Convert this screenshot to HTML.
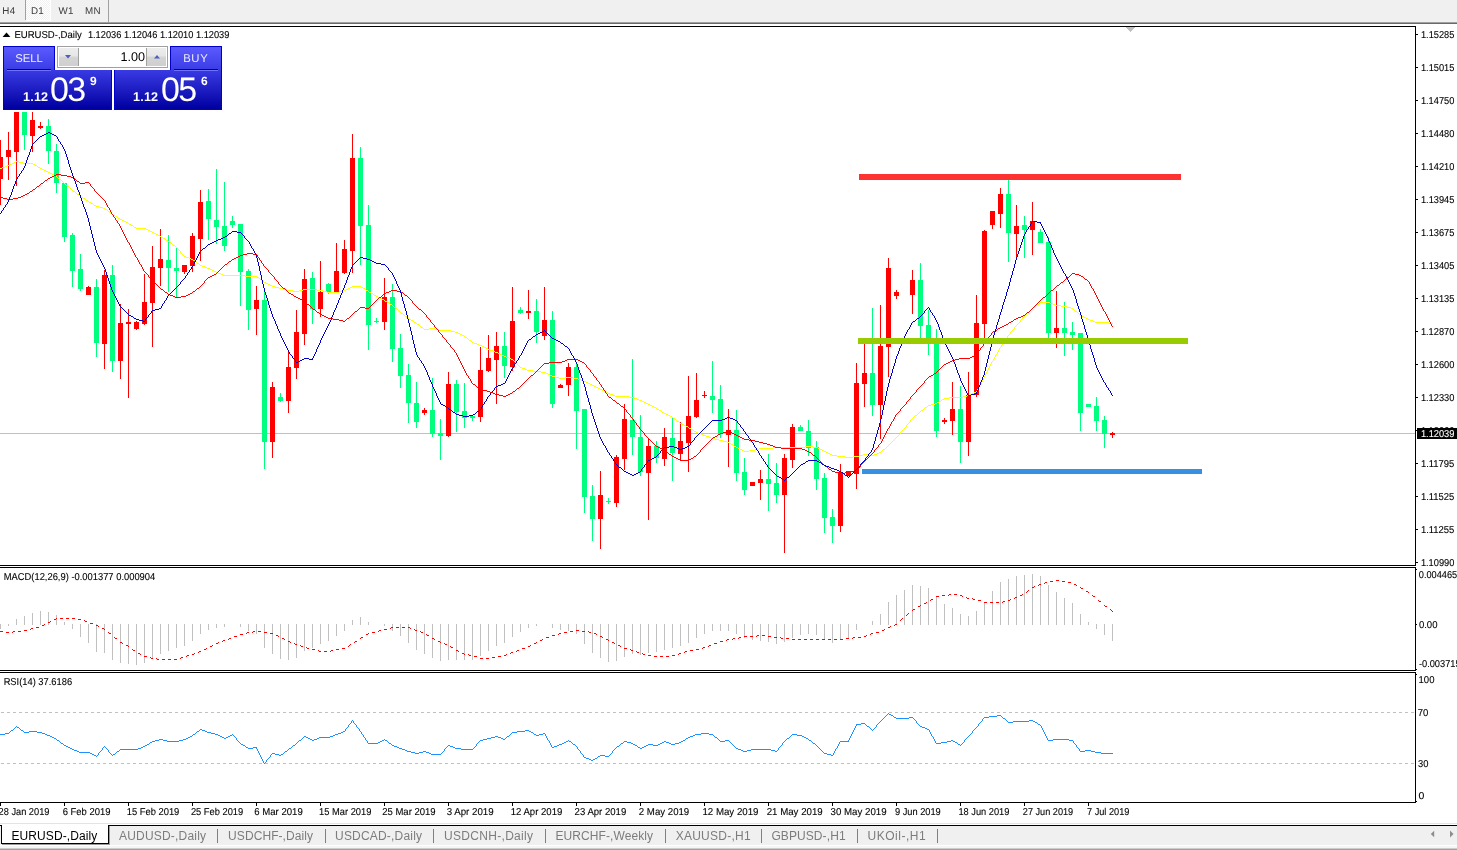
<!DOCTYPE html>
<html lang="en"><head><meta charset="utf-8"><title>EURUSD-,Daily</title>
<style>
html,body{margin:0;padding:0;background:#fff;}
body{width:1457px;height:850px;position:relative;overflow:hidden;font-family:"Liberation Sans",Arial,sans-serif;}
#toolbar{position:absolute;left:0;top:0;width:1457px;height:22px;background:#f0f0f0;border-bottom:1px solid #a0a0a0;}
#toolbar:after{content:"";position:absolute;left:0;top:23px;width:100%;height:1px;background:#696969;}
.tf{position:absolute;top:0;height:21px;line-height:23px;font-size:9.8px;letter-spacing:0.3px;color:#3c3c3c;white-space:nowrap;text-rendering:geometricPrecision;}
.tf.on{left:26px;width:24px;top:0;height:20px;background:repeating-conic-gradient(#ffffff 0% 25%,#f0f0f0 0% 50%) 0 0/2px 2px;box-shadow:1px 0 0 #fff,0 1px 0 #fff,1px 1px 0 #fff;}
.vsep{position:absolute;top:0;width:1px;height:20px;background:#a0a0a0;}
#tabs{position:absolute;left:0;top:823px;width:1457px;height:27px;background:#f0f0f0;}
#tabs .line0{position:absolute;left:0;top:0;width:100%;height:1px;background:#e3e3e3;}
#tabs .line1{position:absolute;left:0;top:1px;width:100%;height:1px;background:#fff;border-bottom:1px solid #000;}
#tabs .bot1{position:absolute;left:0;top:22px;width:100%;height:1px;background:#fff;border-bottom:2px solid #f5f5f5;}
#tabs .bot2{position:absolute;left:0;top:25px;width:100%;height:1px;background:#cdcdcd;border-bottom:1px solid #a0a0a0;}
.tab{position:absolute;top:5px;height:16px;line-height:16px;font-size:12px;color:#7c7c7c;white-space:nowrap;}
.tab.act{color:#000;}
#acttab{position:absolute;left:1px;top:2px;width:106px;height:18px;background:#fff;border:1px solid #000;border-top:none;box-shadow:1px 1px 0 #9a9a9a;}
.sep{position:absolute;top:6px;width:1px;height:14px;background:#808080;}
.arr{position:absolute;top:6px;width:0;height:0;border:4px solid transparent;}
#panel{position:absolute;left:3px;top:46px;width:219px;height:64px;text-rendering:geometricPrecision;}
.pbtn{position:absolute;top:0;height:24px;width:52px;background:linear-gradient(#5a5aff,#3c3ce6);color:#eeeeff;font-size:11.3px;text-align:center;line-height:24px;box-sizing:border-box;border:1px solid #0000cc;border-bottom:none;}
.pbtn:after{content:"";position:absolute;left:3px;right:3px;bottom:0px;height:1px;background:#00008b;box-shadow:0 1px 0 #7070ff;}
.pbox{position:absolute;top:24px;height:40px;width:109px;background:linear-gradient(#3a3ae4,#0000a0);box-sizing:border-box;border:1px solid #0000cc;border-top-color:#2020d0;color:#fff;}
.pbox b{position:absolute;font-weight:bold;}
.pbox span{position:absolute;}
#spin{position:absolute;left:54px;top:0px;width:111px;height:22px;box-sizing:border-box;border:1px solid #a0a0a0;background:#fff;}
#spin .b{position:absolute;top:1px;width:19px;height:18px;background:linear-gradient(#ededed 0%,#e6e6e6 45%,#d4d4d4 50%,#cfcfcf 100%);border:0 solid #a0a0a0;}
#spin .v{position:absolute;right:22px;top:0;height:20px;line-height:21px;font-size:12.6px;letter-spacing:0;color:#000;}
</style></head>
<body>
<div id="toolbar">
<span class="tf" style="left:2.3px">H4</span>
<i class="vsep" style="left:25px"></i>
<span class="tf on"></span>
<span class="tf" style="left:31px">D1</span>
<span class="tf" style="left:58.5px">W1</span>
<span class="tf" style="left:85px">MN</span>
<i class="vsep" style="left:108px;height:22px"></i>
</div>
<svg width="1457" height="850" viewBox="0 0 1457 850" style="position:absolute;left:0;top:0" shape-rendering="crispEdges">
<g fill="#000">
<rect x="0" y="26" width="1416" height="1" fill="#000"/>
<rect x="0" y="565" width="1416" height="1" fill="#000"/>
<rect x="1415" y="26" width="1" height="540" fill="#000"/>
<rect x="0" y="567" width="1416" height="1" fill="#000"/>
<rect x="0" y="670" width="1416" height="1" fill="#000"/>
<rect x="1415" y="567" width="1" height="104" fill="#000"/>
<rect x="0" y="672" width="1416" height="1" fill="#000"/>
<rect x="0" y="802" width="1416" height="1" fill="#000"/>
<rect x="1415" y="672" width="1" height="131" fill="#000"/>
</g>
<rect x="0" y="433" width="1415" height="1" fill="#c0c0c0"/>
<polygon points="1125,27 1135,27 1130,32" fill="#c0c0c0"/>
<line x1="0" y1="712.5" x2="1415" y2="712.5" stroke="#c0c0c0" stroke-width="1" stroke-dasharray="3 3" stroke-dashoffset="5"/>
<line x1="0" y1="763.5" x2="1415" y2="763.5" stroke="#c0c0c0" stroke-width="1" stroke-dasharray="3 3" stroke-dashoffset="5"/>
<g fill="#c0c0c0">
<rect x="0" y="624" width="1" height="5"/>
<rect x="8" y="624" width="1" height="2"/>
<rect x="16" y="619" width="1" height="6"/>
<rect x="24" y="616" width="1" height="9"/>
<rect x="32" y="613" width="1" height="12"/>
<rect x="40" y="611" width="1" height="14"/>
<rect x="48" y="612" width="1" height="13"/>
<rect x="56" y="615" width="1" height="10"/>
<rect x="64" y="622" width="1" height="3"/>
<rect x="72" y="624" width="1" height="5"/>
<rect x="80" y="624" width="1" height="13"/>
<rect x="88" y="624" width="1" height="19"/>
<rect x="96" y="624" width="1" height="28"/>
<rect x="104" y="624" width="1" height="29"/>
<rect x="112" y="624" width="1" height="36"/>
<rect x="120" y="624" width="1" height="39"/>
<rect x="128" y="624" width="1" height="40"/>
<rect x="136" y="624" width="1" height="41"/>
<rect x="144" y="624" width="1" height="39"/>
<rect x="152" y="624" width="1" height="34"/>
<rect x="160" y="624" width="1" height="30"/>
<rect x="168" y="624" width="1" height="27"/>
<rect x="176" y="624" width="1" height="24"/>
<rect x="184" y="624" width="1" height="22"/>
<rect x="192" y="624" width="1" height="17"/>
<rect x="200" y="624" width="1" height="10"/>
<rect x="208" y="624" width="1" height="6"/>
<rect x="216" y="624" width="1" height="4"/>
<rect x="224" y="624" width="1" height="3"/>
<rect x="240" y="624" width="1" height="3"/>
<rect x="248" y="624" width="1" height="7"/>
<rect x="256" y="624" width="1" height="10"/>
<rect x="264" y="624" width="1" height="24"/>
<rect x="272" y="624" width="1" height="30"/>
<rect x="280" y="624" width="1" height="35"/>
<rect x="288" y="624" width="1" height="36"/>
<rect x="296" y="624" width="1" height="34"/>
<rect x="304" y="624" width="1" height="27"/>
<rect x="312" y="624" width="1" height="24"/>
<rect x="320" y="624" width="1" height="20"/>
<rect x="328" y="624" width="1" height="17"/>
<rect x="336" y="624" width="1" height="12"/>
<rect x="344" y="624" width="1" height="7"/>
<rect x="352" y="620" width="1" height="5"/>
<rect x="360" y="617" width="1" height="8"/>
<rect x="368" y="622" width="1" height="3"/>
<rect x="384" y="624" width="1" height="2"/>
<rect x="392" y="624" width="1" height="7"/>
<rect x="400" y="624" width="1" height="12"/>
<rect x="408" y="624" width="1" height="19"/>
<rect x="416" y="624" width="1" height="26"/>
<rect x="424" y="624" width="1" height="30"/>
<rect x="432" y="624" width="1" height="34"/>
<rect x="440" y="624" width="1" height="37"/>
<rect x="448" y="624" width="1" height="36"/>
<rect x="456" y="624" width="1" height="36"/>
<rect x="464" y="624" width="1" height="36"/>
<rect x="472" y="624" width="1" height="36"/>
<rect x="480" y="624" width="1" height="32"/>
<rect x="488" y="624" width="1" height="27"/>
<rect x="496" y="624" width="1" height="22"/>
<rect x="504" y="624" width="1" height="19"/>
<rect x="512" y="624" width="1" height="13"/>
<rect x="520" y="624" width="1" height="8"/>
<rect x="528" y="624" width="1" height="4"/>
<rect x="536" y="624" width="1" height="2"/>
<rect x="552" y="624" width="1" height="4"/>
<rect x="560" y="624" width="1" height="6"/>
<rect x="568" y="624" width="1" height="7"/>
<rect x="576" y="624" width="1" height="10"/>
<rect x="584" y="624" width="1" height="20"/>
<rect x="592" y="624" width="1" height="29"/>
<rect x="600" y="624" width="1" height="34"/>
<rect x="608" y="624" width="1" height="38"/>
<rect x="616" y="624" width="1" height="37"/>
<rect x="624" y="624" width="1" height="33"/>
<rect x="632" y="624" width="1" height="30"/>
<rect x="640" y="624" width="1" height="31"/>
<rect x="648" y="624" width="1" height="29"/>
<rect x="656" y="624" width="1" height="28"/>
<rect x="664" y="624" width="1" height="26"/>
<rect x="672" y="624" width="1" height="24"/>
<rect x="680" y="624" width="1" height="22"/>
<rect x="688" y="624" width="1" height="19"/>
<rect x="696" y="624" width="1" height="14"/>
<rect x="704" y="624" width="1" height="10"/>
<rect x="712" y="624" width="1" height="7"/>
<rect x="720" y="624" width="1" height="7"/>
<rect x="728" y="624" width="1" height="7"/>
<rect x="736" y="624" width="1" height="10"/>
<rect x="744" y="624" width="1" height="14"/>
<rect x="752" y="624" width="1" height="16"/>
<rect x="760" y="624" width="1" height="17"/>
<rect x="768" y="624" width="1" height="18"/>
<rect x="776" y="624" width="1" height="20"/>
<rect x="784" y="624" width="1" height="18"/>
<rect x="792" y="624" width="1" height="14"/>
<rect x="800" y="624" width="1" height="11"/>
<rect x="808" y="624" width="1" height="10"/>
<rect x="816" y="624" width="1" height="11"/>
<rect x="824" y="624" width="1" height="15"/>
<rect x="832" y="624" width="1" height="19"/>
<rect x="840" y="624" width="1" height="16"/>
<rect x="848" y="624" width="1" height="14"/>
<rect x="856" y="624" width="1" height="6"/>
<rect x="872" y="621" width="1" height="4"/>
<rect x="880" y="614" width="1" height="11"/>
<rect x="888" y="602" width="1" height="23"/>
<rect x="896" y="595" width="1" height="30"/>
<rect x="904" y="590" width="1" height="35"/>
<rect x="912" y="585" width="1" height="40"/>
<rect x="920" y="586" width="1" height="39"/>
<rect x="928" y="588" width="1" height="37"/>
<rect x="936" y="597" width="1" height="28"/>
<rect x="944" y="604" width="1" height="21"/>
<rect x="952" y="608" width="1" height="17"/>
<rect x="960" y="614" width="1" height="11"/>
<rect x="968" y="616" width="1" height="9"/>
<rect x="976" y="611" width="1" height="14"/>
<rect x="984" y="602" width="1" height="23"/>
<rect x="992" y="591" width="1" height="34"/>
<rect x="1000" y="582" width="1" height="43"/>
<rect x="1008" y="579" width="1" height="46"/>
<rect x="1016" y="576" width="1" height="49"/>
<rect x="1024" y="575" width="1" height="50"/>
<rect x="1032" y="574" width="1" height="51"/>
<rect x="1040" y="576" width="1" height="49"/>
<rect x="1048" y="585" width="1" height="40"/>
<rect x="1056" y="592" width="1" height="33"/>
<rect x="1064" y="598" width="1" height="27"/>
<rect x="1072" y="603" width="1" height="22"/>
<rect x="1080" y="614" width="1" height="11"/>
<rect x="1088" y="622" width="1" height="3"/>
<rect x="1096" y="624" width="1" height="5"/>
<rect x="1104" y="624" width="1" height="11"/>
<rect x="1112" y="624" width="1" height="17"/>
</g>
<path d="M0 631h3v1h-3zM6 632h3v1h-3zM12 632h1v1h-1zM13 631h2v1h-2zM18 631h3v1h-3zM24 630h3v1h-3zM30 629h1v1h-1zM31 628h2v1h-2zM36 627h3v1h-3zM42 625h2v1h-2zM44 624h1v1h-1zM48 622h2v1h-2zM50 621h1v1h-1zM54 619h2v1h-2zM56 618h1v1h-1zM60 618h3v1h-3zM66 618h3v1h-3zM72 618h3v1h-3zM78 619h3v1h-3zM84 620h1v1h-1zM85 621h2v1h-2zM90 623h3v1h-3zM96 625h2v1h-2zM98 626h1v1h-1zM102 628h2v1h-2zM104 629h1v1h-1zM108 632h1v1h-1zM109 633h2v1h-2zM114 637h1v1h-1zM115 638h2v1h-2zM120 642h2v1h-2zM122 643h1v1h-1zM126 645h2v1h-2zM128 646h1v1h-1zM132 649h1v1h-1zM133 650h2v1h-2zM138 653h2v1h-2zM140 654h1v1h-1zM144 656h3v1h-3zM150 657h1v1h-1zM151 658h2v1h-2zM156 658h1v1h-1zM157 659h2v1h-2zM162 659h3v1h-3zM168 659h3v1h-3zM174 659h3v1h-3zM180 658h1v1h-1zM181 657h2v1h-2zM186 656h1v1h-1zM187 655h2v1h-2zM192 654h2v1h-2zM194 653h1v1h-1zM198 652h1v1h-1zM199 651h2v1h-2zM204 649h2v1h-2zM206 648h1v1h-1zM210 646h2v1h-2zM212 645h1v1h-1zM216 643h2v1h-2zM218 642h1v1h-1zM222 641h1v1h-1zM223 640h2v1h-2zM228 639h1v1h-1zM229 638h2v1h-2zM234 636h3v1h-3zM240 634h3v1h-3zM246 633h1v1h-1zM247 632h2v1h-2zM252 632h1v1h-1zM253 631h2v1h-2zM258 631h3v1h-3zM264 632h3v1h-3zM270 633h3v1h-3zM276 635h2v1h-2zM278 636h1v1h-1zM282 638h2v1h-2zM284 639h1v1h-1zM288 641h2v1h-2zM290 642h1v1h-1zM294 643h1v1h-1zM295 644h2v1h-2zM300 645h1v1h-1zM301 646h2v1h-2zM306 647h1v1h-1zM307 648h2v1h-2zM312 649h3v1h-3zM318 650h1v1h-1zM319 651h2v1h-2zM324 651h3v1h-3zM330 651h1v1h-1zM331 650h2v1h-2zM336 649h3v1h-3zM342 648h3v1h-3zM348 646h1v1h-1zM349 645h1v1h-1zM350 644h1v1h-1zM354 642h1v1h-1zM355 641h2v1h-2zM360 638h1v1h-1zM361 637h2v1h-2zM366 634h2v1h-2zM368 633h1v1h-1zM372 632h3v1h-3zM378 631h1v1h-1zM379 630h2v1h-2zM384 629h3v1h-3zM390 628h1v1h-1zM391 627h2v1h-2zM396 627h3v1h-3zM402 627h3v1h-3zM408 627h2v1h-2zM410 628h1v1h-1zM414 629h1v1h-1zM415 630h2v1h-2zM420 631h1v1h-1zM421 632h2v1h-2zM426 634h1v1h-1zM427 635h2v1h-2zM432 638h2v1h-2zM434 639h1v1h-1zM438 641h2v1h-2zM440 642h1v1h-1zM444 643h1v1h-1zM445 644h2v1h-2zM450 646h1v1h-1zM451 647h2v1h-2zM456 650h2v1h-2zM458 651h1v1h-1zM462 653h2v1h-2zM464 654h1v1h-1zM468 654h1v1h-1zM469 655h2v1h-2zM474 656h3v1h-3zM480 658h3v1h-3zM486 658h3v1h-3zM492 657h3v1h-3zM498 656h3v1h-3zM504 655h2v1h-2zM506 654h1v1h-1zM510 653h1v1h-1zM511 652h2v1h-2zM516 651h1v1h-1zM517 650h2v1h-2zM522 648h3v1h-3zM528 646h2v1h-2zM530 645h1v1h-1zM534 643h2v1h-2zM536 642h1v1h-1zM540 640h2v1h-2zM542 639h1v1h-1zM546 637h3v1h-3zM552 635h3v1h-3zM558 634h1v1h-1zM559 633h2v1h-2zM564 632h3v1h-3zM570 631h3v1h-3zM576 630h3v1h-3zM582 631h3v1h-3zM588 631h1v1h-1zM589 632h2v1h-2zM594 633h2v1h-2zM596 634h1v1h-1zM600 636h2v1h-2zM602 637h1v1h-1zM606 639h2v1h-2zM608 640h1v1h-1zM612 642h2v1h-2zM614 643h1v1h-1zM618 645h2v1h-2zM620 646h1v1h-1zM624 648h3v1h-3zM630 649h1v1h-1zM631 650h2v1h-2zM636 651h1v1h-1zM637 652h2v1h-2zM642 653h1v1h-1zM643 654h2v1h-2zM648 655h3v1h-3zM654 656h3v1h-3zM660 656h3v1h-3zM666 656h3v1h-3zM672 655h3v1h-3zM678 654h1v1h-1zM679 653h2v1h-2zM684 652h1v1h-1zM685 651h2v1h-2zM690 650h3v1h-3zM696 649h3v1h-3zM702 648h1v1h-1zM703 647h2v1h-2zM708 646h1v1h-1zM709 645h2v1h-2zM714 643h3v1h-3zM720 641h3v1h-3zM726 640h1v1h-1zM727 639h2v1h-2zM732 639h1v1h-1zM733 638h2v1h-2zM738 638h1v1h-1zM739 637h2v1h-2zM744 636h3v1h-3zM750 636h3v1h-3zM756 636h1v1h-1zM757 635h2v1h-2zM762 635h3v1h-3zM768 636h3v1h-3zM774 637h3v1h-3zM780 637h1v1h-1zM781 638h2v1h-2zM786 638h3v1h-3zM792 639h3v1h-3zM798 639h3v1h-3zM804 639h3v1h-3zM810 639h3v1h-3zM816 639h3v1h-3zM822 639h3v1h-3zM828 639h3v1h-3zM834 639h3v1h-3zM840 639h3v1h-3zM846 638h3v1h-3zM852 638h1v1h-1zM853 637h2v1h-2zM858 637h3v1h-3zM864 636h2v1h-2zM866 635h1v1h-1zM870 634h1v1h-1zM871 633h2v1h-2zM876 632h3v1h-3zM882 630h2v1h-2zM884 629h1v1h-1zM888 627h2v1h-2zM890 626h1v1h-1zM894 625h1v1h-1zM895 624h2v1h-2zM900 620h1v1h-1zM901 619h1v1h-1zM902 618h1v1h-1zM906 615h1v1h-1zM907 614h1v1h-1zM908 613h1v1h-1zM912 610h1v1h-1zM913 609h2v1h-2zM918 606h2v1h-2zM920 605h1v1h-1zM924 603h2v1h-2zM926 602h1v1h-1zM930 600h1v1h-1zM931 599h2v1h-2zM936 596h3v1h-3zM942 595h3v1h-3zM948 595h1v1h-1zM949 594h2v1h-2zM954 594h3v1h-3zM960 595h2v1h-2zM962 596h1v1h-1zM966 597h1v1h-1zM967 598h2v1h-2zM972 598h1v1h-1zM973 599h2v1h-2zM978 600h3v1h-3zM984 602h3v1h-3zM990 602h3v1h-3zM996 602h3v1h-3zM1002 602h1v1h-1zM1003 601h2v1h-2zM1008 600h2v1h-2zM1010 599h1v1h-1zM1014 598h1v1h-1zM1015 597h2v1h-2zM1020 595h2v1h-2zM1022 594h1v1h-1zM1026 592h1v1h-1zM1027 591h1v1h-1zM1028 590h1v1h-1zM1032 587h2v1h-2zM1034 586h1v1h-1zM1038 585h1v1h-1zM1039 584h2v1h-2zM1044 583h1v1h-1zM1045 582h2v1h-2zM1050 581h3v1h-3zM1056 580h3v1h-3zM1062 581h3v1h-3zM1068 582h3v1h-3zM1074 584h2v1h-2zM1076 585h1v1h-1zM1080 587h1v1h-1zM1081 588h2v1h-2zM1086 591h2v1h-2zM1088 592h1v1h-1zM1092 595h1v1h-1zM1093 596h2v1h-2zM1098 600h1v1h-1zM1099 601h2v1h-2zM1104 605h1v1h-1zM1105 606h2v1h-2zM1110 609h1v1h-1zM1111 610h1v1h-1zM1112 611h1v1h-1z" fill="#ff0000"/>
<path d="M0 734h5v1h-5zM5 733h4v1h-4zM9 732h1v1h-1zM10 731h1v1h-1zM11 730h2v1h-2zM13 729h1v1h-1zM14 728h1v1h-1zM15 727h1v1h-1zM16 726h1v1h-1zM17 727h2v1h-2zM19 728h1v1h-1zM20 729h1v1h-1zM21 730h2v1h-2zM23 731h1v1h-1zM24 732h5v1h-5zM29 731h8v1h-8zM37 732h5v1h-5zM42 733h3v1h-3zM45 734h2v1h-2zM47 735h3v1h-3zM50 736h2v1h-2zM52 737h2v1h-2zM54 738h2v1h-2zM56 739h1v1h-1zM57 740h2v1h-2zM59 741h1v1h-1zM60 742h1v1h-1zM61 743h2v1h-2zM63 744h1v1h-1zM64 745h2v1h-2zM66 746h2v1h-2zM68 747h2v1h-2zM70 748h2v1h-2zM72 749h2v1h-2zM74 750h3v1h-3zM77 751h2v1h-2zM79 752h11v1h-11zM90 753h2v1h-2zM92 754h2v1h-2zM94 755h2v1h-2zM96 756h1v1h-1zM97 755h1v1h-1zM98 753h1v2h-1zM99 752h1v1h-1zM100 751h1v1h-1zM101 750h1v1h-1zM102 748h1v2h-1zM103 747h1v1h-1zM104 746h1v1h-1zM105 747h1v1h-1zM106 748h1v1h-1zM107 749h1v1h-1zM108 750h1v2h-1zM109 752h1v1h-1zM110 753h1v1h-1zM111 754h1v1h-1zM112 755h1v1h-1zM113 754h2v1h-2zM115 753h1v1h-1zM116 752h1v1h-1zM117 751h2v1h-2zM119 750h1v1h-1zM120 749h18v1h-18zM138 748h3v1h-3zM141 747h2v1h-2zM143 746h2v1h-2zM145 745h2v1h-2zM147 744h2v1h-2zM149 743h1v1h-1zM150 742h2v1h-2zM152 741h3v1h-3zM155 740h4v1h-4zM159 739h4v1h-4zM163 740h4v1h-4zM167 741h12v1h-12zM179 740h4v1h-4zM183 739h3v1h-3zM186 738h2v1h-2zM188 737h2v1h-2zM190 736h2v1h-2zM192 735h1v1h-1zM193 734h2v1h-2zM195 733h1v1h-1zM196 732h1v1h-1zM197 731h2v1h-2zM199 730h1v1h-1zM200 729h2v1h-2zM202 730h3v1h-3zM205 731h2v1h-2zM207 732h4v1h-4zM211 733h4v1h-4zM215 734h3v1h-3zM218 735h2v1h-2zM220 736h2v1h-2zM222 737h2v1h-2zM224 738h2v1h-2zM226 737h2v1h-2zM228 736h2v1h-2zM230 735h2v1h-2zM232 734h1v1h-1zM233 735h1v1h-1zM234 736h1v1h-1zM235 737h1v1h-1zM236 738h1v2h-1zM237 740h1v1h-1zM238 741h1v1h-1zM239 742h1v1h-1zM240 743h1v1h-1zM241 744h2v1h-2zM243 745h2v1h-2zM245 746h1v1h-1zM246 747h2v1h-2zM248 748h5v1h-5zM253 747h4v1h-4zM256 748h1v1h-1zM257 749h1v2h-1zM258 751h1v2h-1zM259 753h1v2h-1zM260 755h1v2h-1zM261 757h1v2h-1zM262 759h1v2h-1zM263 761h1v2h-1zM264 763h1v1h-1zM265 762h1v1h-1zM266 760h1v2h-1zM267 759h1v1h-1zM268 758h1v1h-1zM269 757h1v1h-1zM270 755h1v2h-1zM271 754h1v1h-1zM272 753h3v1h-3zM275 754h4v1h-4zM279 755h2v1h-2zM281 754h2v1h-2zM283 753h1v1h-1zM284 752h1v1h-1zM285 751h2v1h-2zM287 750h1v1h-1zM288 749h1v1h-1zM289 748h2v1h-2zM291 747h1v1h-1zM292 746h1v1h-1zM293 745h2v1h-2zM295 744h1v1h-1zM296 743h1v1h-1zM297 742h1v1h-1zM298 741h1v1h-1zM299 740h2v1h-2zM301 739h1v1h-1zM302 738h1v1h-1zM303 737h1v1h-1zM304 736h2v1h-2zM306 737h2v1h-2zM308 738h2v1h-2zM310 739h2v1h-2zM312 740h2v1h-2zM314 739h3v1h-3zM317 738h2v1h-2zM319 737h11v1h-11zM330 736h3v1h-3zM333 735h2v1h-2zM335 734h3v1h-3zM338 733h3v1h-3zM341 732h2v1h-2zM343 731h2v1h-2zM345 729h1v2h-1zM346 728h1v1h-1zM347 727h1v1h-1zM348 725h1v2h-1zM349 724h1v1h-1zM350 723h1v1h-1zM351 721h1v2h-1zM352 720h1v1h-1zM353 721h1v2h-1zM354 723h1v1h-1zM355 724h1v1h-1zM356 725h1v2h-1zM357 727h1v1h-1zM358 728h1v1h-1zM359 729h1v2h-1zM360 731h1v1h-1zM361 732h1v2h-1zM362 734h1v1h-1zM363 735h1v2h-1zM364 737h1v1h-1zM365 738h1v2h-1zM366 740h1v1h-1zM367 741h1v2h-1zM368 743h10v1h-10zM378 742h2v1h-2zM380 741h2v1h-2zM382 740h2v1h-2zM384 739h1v1h-1zM385 740h2v1h-2zM387 741h1v1h-1zM388 742h1v1h-1zM389 743h2v1h-2zM391 744h1v1h-1zM392 745h2v1h-2zM394 746h3v1h-3zM397 747h2v1h-2zM399 748h3v1h-3zM402 749h3v1h-3zM405 750h2v1h-2zM407 751h4v1h-4zM411 752h4v1h-4zM415 753h4v1h-4zM419 752h4v1h-4zM423 751h3v1h-3zM426 752h3v1h-3zM429 753h2v1h-2zM431 754h10v1h-10zM441 753h1v1h-1zM442 752h1v1h-1zM443 751h1v1h-1zM444 749h1v2h-1zM445 748h1v1h-1zM446 747h1v1h-1zM447 746h1v1h-1zM448 745h2v1h-2zM450 746h3v1h-3zM453 747h2v1h-2zM455 748h6v1h-6zM461 749h12v1h-12zM473 748h1v1h-1zM474 747h1v1h-1zM475 746h1v1h-1zM476 744h1v2h-1zM477 743h1v1h-1zM478 742h1v1h-1zM479 741h1v1h-1zM480 740h3v1h-3zM483 739h4v1h-4zM487 738h4v1h-4zM491 737h4v1h-4zM495 736h3v1h-3zM498 737h3v1h-3zM501 738h2v1h-2zM503 739h2v1h-2zM505 738h1v1h-1zM506 737h1v1h-1zM507 736h2v1h-2zM509 735h1v1h-1zM510 734h1v1h-1zM511 733h1v1h-1zM512 732h5v1h-5zM517 731h8v1h-8zM525 730h4v1h-4zM529 731h2v1h-2zM531 732h2v1h-2zM533 733h1v1h-1zM534 734h2v1h-2zM536 735h3v1h-3zM539 734h4v1h-4zM543 733h2v1h-2zM545 734h1v2h-1zM546 736h1v2h-1zM547 738h1v2h-1zM548 740h1v1h-1zM549 741h1v2h-1zM550 743h1v2h-1zM551 745h1v2h-1zM552 747h2v1h-2zM554 746h3v1h-3zM557 745h2v1h-2zM559 744h3v1h-3zM562 743h2v1h-2zM564 742h2v1h-2zM566 741h2v1h-2zM568 740h1v1h-1zM569 741h2v1h-2zM571 742h1v1h-1zM572 743h1v1h-1zM573 744h2v1h-2zM575 745h1v1h-1zM576 746h1v1h-1zM577 747h1v2h-1zM578 749h1v1h-1zM579 750h1v1h-1zM580 751h1v2h-1zM581 753h1v1h-1zM582 754h1v1h-1zM583 755h1v2h-1zM584 757h2v1h-2zM586 758h3v1h-3zM589 759h2v1h-2zM591 760h2v1h-2zM593 759h2v1h-2zM595 758h2v1h-2zM597 757h1v1h-1zM598 756h2v1h-2zM600 755h5v1h-5zM605 756h4v1h-4zM609 755h1v1h-1zM610 754h1v1h-1zM611 753h1v1h-1zM612 751h1v2h-1zM613 750h1v1h-1zM614 749h1v1h-1zM615 748h1v1h-1zM616 747h1v1h-1zM617 746h2v1h-2zM619 745h1v1h-1zM620 744h1v1h-1zM621 743h2v1h-2zM623 742h1v1h-1zM624 741h3v1h-3zM627 742h4v1h-4zM631 743h2v1h-2zM633 744h2v1h-2zM635 745h2v1h-2zM637 746h1v1h-1zM638 747h2v1h-2zM640 748h2v1h-2zM642 747h2v1h-2zM644 746h2v1h-2zM646 745h2v1h-2zM648 744h5v1h-5zM653 745h5v1h-5zM658 744h2v1h-2zM660 743h2v1h-2zM662 742h2v1h-2zM664 741h2v1h-2zM666 742h3v1h-3zM669 743h2v1h-2zM671 744h4v1h-4zM675 743h4v1h-4zM679 742h2v1h-2zM681 741h2v1h-2zM683 740h2v1h-2zM685 739h1v1h-1zM686 738h2v1h-2zM688 737h2v1h-2zM690 736h3v1h-3zM693 735h2v1h-2zM695 734h6v1h-6zM701 733h8v1h-8zM709 734h4v1h-4zM713 735h1v1h-1zM714 736h1v1h-1zM715 737h2v1h-2zM717 738h1v1h-1zM718 739h1v1h-1zM719 740h1v1h-1zM720 741h5v1h-5zM725 740h4v1h-4zM729 741h1v1h-1zM730 742h1v1h-1zM731 743h1v1h-1zM732 744h1v1h-1zM733 745h1v1h-1zM734 746h1v1h-1zM735 747h1v1h-1zM736 748h2v1h-2zM738 749h3v1h-3zM741 750h2v1h-2zM743 751h4v1h-4zM747 750h4v1h-4zM751 749h20v1h-20zM771 750h4v1h-4zM775 751h2v1h-2zM777 750h1v1h-1zM778 748h1v2h-1zM779 747h1v1h-1zM780 746h1v1h-1zM781 745h1v1h-1zM782 743h1v2h-1zM783 742h1v1h-1zM784 741h1v1h-1zM785 740h1v1h-1zM786 739h1v1h-1zM787 738h2v1h-2zM789 737h1v1h-1zM790 736h1v1h-1zM791 735h1v1h-1zM792 734h5v1h-5zM797 735h5v1h-5zM802 736h2v1h-2zM804 737h2v1h-2zM806 738h2v1h-2zM808 739h1v1h-1zM809 740h2v1h-2zM811 741h1v1h-1zM812 742h1v1h-1zM813 743h2v1h-2zM815 744h1v1h-1zM816 745h1v1h-1zM817 746h1v1h-1zM818 747h1v1h-1zM819 748h1v1h-1zM820 749h1v1h-1zM821 750h1v1h-1zM822 751h1v1h-1zM823 752h1v1h-1zM824 753h3v1h-3zM827 754h4v1h-4zM831 755h2v1h-2zM833 753h1v2h-1zM834 751h1v2h-1zM835 749h1v2h-1zM836 748h1v1h-1zM837 746h1v2h-1zM838 744h1v2h-1zM839 742h1v2h-1zM840 741h9v1h-9zM848 740h1v1h-1zM849 738h1v2h-1zM850 736h1v2h-1zM851 734h1v2h-1zM852 732h1v2h-1zM853 730h1v2h-1zM854 728h1v2h-1zM855 726h1v2h-1zM856 724h5v1h-5zM856 725h1v1h-1zM861 723h4v1h-4zM865 724h1v1h-1zM866 725h1v1h-1zM867 726h2v1h-2zM869 727h1v1h-1zM870 728h1v1h-1zM871 729h1v1h-1zM872 730h1v1h-1zM873 729h1v1h-1zM874 728h1v1h-1zM875 727h1v1h-1zM876 725h1v2h-1zM877 724h1v1h-1zM878 723h1v1h-1zM879 722h1v1h-1zM880 721h1v1h-1zM881 720h1v1h-1zM882 719h1v1h-1zM883 718h1v1h-1zM884 717h1v1h-1zM885 716h1v1h-1zM886 715h1v1h-1zM887 714h1v1h-1zM888 713h1v1h-1zM889 714h2v1h-2zM891 715h2v1h-2zM893 716h1v1h-1zM894 717h2v1h-2zM896 718h13v1h-13zM909 717h4v1h-4zM913 718h1v1h-1zM914 719h1v1h-1zM915 720h1v1h-1zM916 721h1v2h-1zM917 723h1v1h-1zM918 724h1v1h-1zM919 725h1v1h-1zM920 726h2v1h-2zM922 727h3v1h-3zM925 728h2v1h-2zM927 729h2v1h-2zM929 730h1v2h-1zM930 732h1v2h-1zM931 734h1v2h-1zM932 736h1v1h-1zM933 737h1v2h-1zM934 739h1v2h-1zM935 741h1v2h-1zM936 743h5v1h-5zM941 742h6v1h-6zM947 741h4v1h-4zM951 740h2v1h-2zM953 741h2v1h-2zM955 742h2v1h-2zM957 743h1v1h-1zM958 744h2v1h-2zM960 745h1v1h-1zM961 744h1v1h-1zM962 743h1v1h-1zM963 742h1v1h-1zM964 740h1v2h-1zM965 739h1v1h-1zM966 738h1v1h-1zM967 737h1v1h-1zM968 736h1v1h-1zM969 735h1v1h-1zM970 734h1v1h-1zM971 733h1v1h-1zM972 731h1v2h-1zM973 730h1v1h-1zM974 729h1v1h-1zM975 728h1v1h-1zM976 727h1v1h-1zM977 726h1v1h-1zM978 724h1v2h-1zM979 723h1v1h-1zM980 722h1v1h-1zM981 721h1v1h-1zM982 719h1v2h-1zM983 718h1v1h-1zM984 717h5v1h-5zM989 716h8v1h-8zM997 715h4v1h-4zM1001 716h1v1h-1zM1002 717h1v1h-1zM1003 718h2v1h-2zM1005 719h1v1h-1zM1006 720h1v1h-1zM1007 721h1v1h-1zM1008 722h5v1h-5zM1013 721h16v1h-16zM1029 720h4v1h-4zM1033 721h2v1h-2zM1035 722h2v1h-2zM1037 723h1v1h-1zM1038 724h2v1h-2zM1040 725h1v1h-1zM1041 726h1v2h-1zM1042 728h1v2h-1zM1043 730h1v2h-1zM1044 732h1v2h-1zM1045 734h1v2h-1zM1046 736h1v2h-1zM1047 738h1v2h-1zM1048 740h5v1h-5zM1053 739h16v1h-16zM1069 740h4v1h-4zM1073 741h1v2h-1zM1074 743h1v1h-1zM1075 744h1v1h-1zM1076 745h1v2h-1zM1077 747h1v1h-1zM1078 748h1v1h-1zM1079 749h1v2h-1zM1080 751h5v1h-5zM1085 750h6v1h-6zM1091 751h4v1h-4zM1095 752h6v1h-6zM1101 753h12v1h-12z" fill="#1e90ff"/>
<g fill="#ff0000">
<rect x="0" y="140" width="1" height="65"/>
<rect x="-2" y="157" width="5" height="22"/>
<rect x="8" y="132" width="1" height="48"/>
<rect x="6" y="150" width="5" height="7"/>
<rect x="16" y="112" width="1" height="74"/>
<rect x="14" y="112" width="5" height="40"/>
<rect x="32" y="112" width="1" height="40"/>
<rect x="30" y="120" width="5" height="16"/>
<rect x="40" y="122" width="1" height="7"/>
<rect x="38" y="126" width="5" height="2"/>
<rect x="88" y="286" width="1" height="9"/>
<rect x="86" y="287" width="5" height="8"/>
<rect x="104" y="270" width="1" height="99"/>
<rect x="102" y="275" width="5" height="69"/>
<rect x="120" y="304" width="1" height="75"/>
<rect x="118" y="323" width="5" height="38"/>
<rect x="128" y="309" width="1" height="89"/>
<rect x="126" y="322" width="5" height="2"/>
<rect x="136" y="321" width="1" height="9"/>
<rect x="134" y="322" width="5" height="7"/>
<rect x="144" y="274" width="1" height="51"/>
<rect x="142" y="302" width="5" height="22"/>
<rect x="152" y="246" width="1" height="101"/>
<rect x="150" y="267" width="5" height="36"/>
<rect x="160" y="229" width="1" height="57"/>
<rect x="158" y="259" width="5" height="9"/>
<rect x="184" y="265" width="1" height="9"/>
<rect x="182" y="265" width="5" height="7"/>
<rect x="192" y="233" width="1" height="39"/>
<rect x="190" y="236" width="5" height="30"/>
<rect x="200" y="190" width="1" height="71"/>
<rect x="198" y="202" width="5" height="37"/>
<rect x="256" y="286" width="1" height="49"/>
<rect x="254" y="300" width="5" height="9"/>
<rect x="272" y="382" width="1" height="76"/>
<rect x="270" y="387" width="5" height="55"/>
<rect x="288" y="350" width="1" height="63"/>
<rect x="286" y="367" width="5" height="34"/>
<rect x="296" y="310" width="1" height="69"/>
<rect x="294" y="332" width="5" height="36"/>
<rect x="304" y="269" width="1" height="76"/>
<rect x="302" y="279" width="5" height="55"/>
<rect x="320" y="261" width="1" height="56"/>
<rect x="318" y="292" width="5" height="17"/>
<rect x="336" y="243" width="1" height="49"/>
<rect x="334" y="271" width="5" height="21"/>
<rect x="344" y="240" width="1" height="34"/>
<rect x="342" y="249" width="5" height="24"/>
<rect x="352" y="134" width="1" height="139"/>
<rect x="350" y="158" width="5" height="93"/>
<rect x="384" y="278" width="1" height="52"/>
<rect x="382" y="297" width="5" height="25"/>
<rect x="424" y="408" width="1" height="7"/>
<rect x="422" y="410" width="5" height="3"/>
<rect x="448" y="372" width="1" height="65"/>
<rect x="446" y="384" width="5" height="52"/>
<rect x="480" y="347" width="1" height="75"/>
<rect x="478" y="370" width="5" height="47"/>
<rect x="488" y="335" width="1" height="37"/>
<rect x="486" y="358" width="5" height="13"/>
<rect x="496" y="332" width="1" height="72"/>
<rect x="494" y="346" width="5" height="14"/>
<rect x="512" y="287" width="1" height="84"/>
<rect x="510" y="321" width="5" height="46"/>
<rect x="528" y="290" width="1" height="29"/>
<rect x="526" y="311" width="5" height="2"/>
<rect x="544" y="287" width="1" height="53"/>
<rect x="542" y="320" width="5" height="16"/>
<rect x="560" y="384" width="1" height="4"/>
<rect x="558" y="385" width="5" height="3"/>
<rect x="568" y="363" width="1" height="33"/>
<rect x="566" y="367" width="5" height="18"/>
<rect x="600" y="471" width="1" height="78"/>
<rect x="598" y="495" width="5" height="24"/>
<rect x="616" y="455" width="1" height="52"/>
<rect x="614" y="457" width="5" height="46"/>
<rect x="624" y="404" width="1" height="66"/>
<rect x="622" y="419" width="5" height="40"/>
<rect x="648" y="439" width="1" height="81"/>
<rect x="646" y="446" width="5" height="27"/>
<rect x="664" y="428" width="1" height="38"/>
<rect x="662" y="437" width="5" height="22"/>
<rect x="680" y="422" width="1" height="38"/>
<rect x="678" y="441" width="5" height="13"/>
<rect x="688" y="376" width="1" height="96"/>
<rect x="686" y="416" width="5" height="27"/>
<rect x="696" y="373" width="1" height="45"/>
<rect x="694" y="400" width="5" height="17"/>
<rect x="704" y="391" width="1" height="7"/>
<rect x="702" y="395" width="5" height="1"/>
<rect x="728" y="409" width="1" height="58"/>
<rect x="726" y="430" width="5" height="5"/>
<rect x="752" y="482" width="1" height="4"/>
<rect x="750" y="482" width="5" height="4"/>
<rect x="760" y="470" width="1" height="30"/>
<rect x="758" y="479" width="5" height="4"/>
<rect x="784" y="454" width="1" height="99"/>
<rect x="782" y="458" width="5" height="37"/>
<rect x="792" y="424" width="1" height="44"/>
<rect x="790" y="427" width="5" height="33"/>
<rect x="840" y="464" width="1" height="68"/>
<rect x="838" y="472" width="5" height="54"/>
<rect x="848" y="471" width="1" height="5"/>
<rect x="846" y="471" width="5" height="5"/>
<rect x="856" y="363" width="1" height="126"/>
<rect x="854" y="383" width="5" height="91"/>
<rect x="864" y="340" width="1" height="67"/>
<rect x="862" y="373" width="5" height="11"/>
<rect x="880" y="305" width="1" height="134"/>
<rect x="878" y="346" width="5" height="59"/>
<rect x="888" y="258" width="1" height="119"/>
<rect x="886" y="268" width="5" height="79"/>
<rect x="896" y="290" width="1" height="9"/>
<rect x="894" y="292" width="5" height="4"/>
<rect x="912" y="270" width="1" height="44"/>
<rect x="910" y="280" width="5" height="15"/>
<rect x="944" y="418" width="1" height="6"/>
<rect x="942" y="420" width="5" height="2"/>
<rect x="952" y="382" width="1" height="53"/>
<rect x="950" y="409" width="5" height="12"/>
<rect x="968" y="372" width="1" height="84"/>
<rect x="966" y="395" width="5" height="47"/>
<rect x="976" y="295" width="1" height="102"/>
<rect x="974" y="323" width="5" height="72"/>
<rect x="984" y="230" width="1" height="114"/>
<rect x="982" y="231" width="5" height="93"/>
<rect x="992" y="211" width="1" height="18"/>
<rect x="990" y="211" width="5" height="14"/>
<rect x="1000" y="188" width="1" height="40"/>
<rect x="998" y="194" width="5" height="20"/>
<rect x="1016" y="205" width="1" height="53"/>
<rect x="1014" y="226" width="5" height="8"/>
<rect x="1032" y="202" width="1" height="53"/>
<rect x="1030" y="221" width="5" height="9"/>
<rect x="1056" y="291" width="1" height="57"/>
<rect x="1054" y="328" width="5" height="5"/>
<rect x="1112" y="432" width="1" height="6"/>
<rect x="1110" y="433" width="5" height="2"/>
</g>
<g fill="#00ff7f">
<rect x="24" y="112" width="1" height="38"/>
<rect x="22" y="112" width="5" height="23"/>
<rect x="48" y="119" width="1" height="45"/>
<rect x="46" y="126" width="5" height="25"/>
<rect x="56" y="144" width="1" height="49"/>
<rect x="54" y="151" width="5" height="32"/>
<rect x="64" y="183" width="1" height="59"/>
<rect x="62" y="183" width="5" height="54"/>
<rect x="72" y="233" width="1" height="54"/>
<rect x="70" y="235" width="5" height="36"/>
<rect x="80" y="254" width="1" height="37"/>
<rect x="78" y="269" width="5" height="20"/>
<rect x="96" y="279" width="1" height="78"/>
<rect x="94" y="287" width="5" height="56"/>
<rect x="112" y="265" width="1" height="107"/>
<rect x="110" y="275" width="5" height="86"/>
<rect x="168" y="235" width="1" height="57"/>
<rect x="166" y="260" width="5" height="8"/>
<rect x="176" y="248" width="1" height="49"/>
<rect x="174" y="268" width="5" height="3"/>
<rect x="208" y="189" width="1" height="51"/>
<rect x="206" y="201" width="5" height="18"/>
<rect x="216" y="169" width="1" height="75"/>
<rect x="214" y="220" width="5" height="7"/>
<rect x="224" y="182" width="1" height="69"/>
<rect x="222" y="226" width="5" height="20"/>
<rect x="232" y="216" width="1" height="12"/>
<rect x="230" y="221" width="5" height="4"/>
<rect x="240" y="224" width="1" height="82"/>
<rect x="238" y="224" width="5" height="48"/>
<rect x="248" y="269" width="1" height="61"/>
<rect x="246" y="271" width="5" height="39"/>
<rect x="264" y="291" width="1" height="178"/>
<rect x="262" y="300" width="5" height="142"/>
<rect x="280" y="393" width="1" height="9"/>
<rect x="278" y="397" width="5" height="4"/>
<rect x="312" y="272" width="1" height="52"/>
<rect x="310" y="278" width="5" height="31"/>
<rect x="328" y="283" width="1" height="11"/>
<rect x="326" y="284" width="5" height="8"/>
<rect x="360" y="147" width="1" height="118"/>
<rect x="358" y="158" width="5" height="68"/>
<rect x="368" y="205" width="1" height="145"/>
<rect x="366" y="225" width="5" height="100"/>
<rect x="376" y="318" width="1" height="5"/>
<rect x="374" y="321" width="5" height="1"/>
<rect x="392" y="284" width="1" height="78"/>
<rect x="390" y="297" width="5" height="52"/>
<rect x="400" y="334" width="1" height="54"/>
<rect x="398" y="348" width="5" height="28"/>
<rect x="408" y="364" width="1" height="59"/>
<rect x="406" y="375" width="5" height="28"/>
<rect x="416" y="382" width="1" height="46"/>
<rect x="414" y="403" width="5" height="19"/>
<rect x="432" y="378" width="1" height="59"/>
<rect x="430" y="410" width="5" height="24"/>
<rect x="440" y="419" width="1" height="41"/>
<rect x="438" y="433" width="5" height="3"/>
<rect x="456" y="380" width="1" height="52"/>
<rect x="454" y="384" width="5" height="28"/>
<rect x="464" y="383" width="1" height="45"/>
<rect x="462" y="411" width="5" height="7"/>
<rect x="472" y="415" width="1" height="6"/>
<rect x="470" y="416" width="5" height="2"/>
<rect x="504" y="332" width="1" height="46"/>
<rect x="502" y="346" width="5" height="20"/>
<rect x="520" y="307" width="1" height="7"/>
<rect x="518" y="310" width="5" height="3"/>
<rect x="536" y="299" width="1" height="44"/>
<rect x="534" y="311" width="5" height="21"/>
<rect x="552" y="311" width="1" height="97"/>
<rect x="550" y="320" width="5" height="84"/>
<rect x="576" y="364" width="1" height="85"/>
<rect x="574" y="367" width="5" height="44"/>
<rect x="584" y="409" width="1" height="104"/>
<rect x="582" y="409" width="5" height="88"/>
<rect x="592" y="485" width="1" height="56"/>
<rect x="590" y="496" width="5" height="23"/>
<rect x="608" y="498" width="1" height="6"/>
<rect x="606" y="501" width="5" height="1"/>
<rect x="632" y="359" width="1" height="96"/>
<rect x="630" y="420" width="5" height="17"/>
<rect x="640" y="415" width="1" height="61"/>
<rect x="638" y="437" width="5" height="35"/>
<rect x="656" y="441" width="1" height="22"/>
<rect x="654" y="446" width="5" height="12"/>
<rect x="672" y="418" width="1" height="63"/>
<rect x="670" y="438" width="5" height="15"/>
<rect x="712" y="361" width="1" height="52"/>
<rect x="710" y="396" width="5" height="4"/>
<rect x="720" y="385" width="1" height="53"/>
<rect x="718" y="399" width="5" height="35"/>
<rect x="736" y="410" width="1" height="71"/>
<rect x="734" y="430" width="5" height="43"/>
<rect x="744" y="458" width="1" height="37"/>
<rect x="742" y="472" width="5" height="18"/>
<rect x="768" y="454" width="1" height="57"/>
<rect x="766" y="479" width="5" height="5"/>
<rect x="776" y="463" width="1" height="40"/>
<rect x="774" y="483" width="5" height="12"/>
<rect x="800" y="425" width="1" height="6"/>
<rect x="798" y="427" width="5" height="4"/>
<rect x="808" y="420" width="1" height="36"/>
<rect x="806" y="431" width="5" height="17"/>
<rect x="816" y="441" width="1" height="49"/>
<rect x="814" y="447" width="5" height="32"/>
<rect x="824" y="473" width="1" height="60"/>
<rect x="822" y="478" width="5" height="40"/>
<rect x="832" y="509" width="1" height="34"/>
<rect x="830" y="517" width="5" height="9"/>
<rect x="872" y="308" width="1" height="108"/>
<rect x="870" y="373" width="5" height="32"/>
<rect x="920" y="263" width="1" height="75"/>
<rect x="918" y="280" width="5" height="46"/>
<rect x="928" y="310" width="1" height="45"/>
<rect x="926" y="325" width="5" height="16"/>
<rect x="936" y="329" width="1" height="108"/>
<rect x="934" y="341" width="5" height="90"/>
<rect x="960" y="386" width="1" height="77"/>
<rect x="958" y="409" width="5" height="33"/>
<rect x="1008" y="180" width="1" height="82"/>
<rect x="1006" y="194" width="5" height="39"/>
<rect x="1024" y="216" width="1" height="42"/>
<rect x="1022" y="225" width="5" height="5"/>
<rect x="1040" y="229" width="1" height="14"/>
<rect x="1038" y="232" width="5" height="11"/>
<rect x="1048" y="237" width="1" height="101"/>
<rect x="1046" y="242" width="5" height="91"/>
<rect x="1064" y="302" width="1" height="54"/>
<rect x="1062" y="328" width="5" height="5"/>
<rect x="1072" y="322" width="1" height="28"/>
<rect x="1070" y="332" width="5" height="3"/>
<rect x="1080" y="333" width="1" height="98"/>
<rect x="1078" y="333" width="5" height="80"/>
<rect x="1088" y="404" width="1" height="3"/>
<rect x="1086" y="404" width="5" height="3"/>
<rect x="1096" y="397" width="1" height="34"/>
<rect x="1094" y="406" width="5" height="15"/>
<rect x="1104" y="416" width="1" height="32"/>
<rect x="1102" y="420" width="5" height="14"/>
</g>
<path d="M0 168h2v1h-2zM2 167h3v1h-3zM5 166h2v1h-2zM7 165h3v1h-3zM10 164h2v1h-2zM12 163h2v1h-2zM14 162h2v1h-2zM16 161h3v1h-3zM19 162h4v1h-4zM23 163h10v1h-10zM33 164h2v1h-2zM35 165h2v1h-2zM37 166h1v1h-1zM38 167h2v1h-2zM40 168h2v1h-2zM42 169h2v1h-2zM44 170h2v1h-2zM46 171h2v1h-2zM48 172h2v1h-2zM50 173h2v1h-2zM52 174h2v1h-2zM54 175h2v1h-2zM56 176h1v1h-1zM57 177h1v1h-1zM58 178h1v1h-1zM59 179h2v1h-2zM61 180h1v1h-1zM62 181h1v1h-1zM63 182h1v1h-1zM64 183h1v1h-1zM65 184h1v1h-1zM66 185h1v1h-1zM67 186h2v1h-2zM69 187h1v1h-1zM70 188h1v1h-1zM71 189h1v1h-1zM72 190h1v1h-1zM73 191h2v1h-2zM75 192h1v1h-1zM76 193h1v1h-1zM77 194h2v1h-2zM79 195h1v1h-1zM80 196h1v1h-1zM81 197h2v1h-2zM83 198h2v1h-2zM85 199h1v1h-1zM86 200h2v1h-2zM88 201h1v1h-1zM89 202h2v1h-2zM91 203h2v1h-2zM93 204h1v1h-1zM94 205h2v1h-2zM96 206h3v1h-3zM99 207h4v1h-4zM103 208h2v1h-2zM105 209h2v1h-2zM107 210h1v1h-1zM108 211h1v1h-1zM109 212h2v1h-2zM111 213h1v1h-1zM112 214h1v1h-1zM113 215h2v1h-2zM115 216h2v1h-2zM117 217h1v1h-1zM118 218h2v1h-2zM120 219h2v1h-2zM122 220h2v1h-2zM124 221h2v1h-2zM126 222h2v1h-2zM128 223h1v1h-1zM129 224h2v1h-2zM131 225h2v1h-2zM133 226h1v1h-1zM134 227h2v1h-2zM136 228h10v1h-10zM146 229h2v1h-2zM148 230h2v1h-2zM150 231h2v1h-2zM152 232h2v1h-2zM154 233h2v1h-2zM156 234h2v1h-2zM158 235h2v1h-2zM160 236h1v1h-1zM161 237h2v1h-2zM163 238h2v1h-2zM165 239h1v1h-1zM166 240h2v1h-2zM168 241h1v1h-1zM169 242h2v1h-2zM171 243h1v1h-1zM172 244h1v1h-1zM173 245h2v1h-2zM175 246h1v1h-1zM176 247h1v1h-1zM177 248h1v1h-1zM178 249h1v1h-1zM179 250h1v1h-1zM180 251h1v2h-1zM181 253h1v1h-1zM182 254h1v1h-1zM183 255h1v1h-1zM184 256h2v1h-2zM186 257h3v1h-3zM189 258h2v1h-2zM191 259h2v1h-2zM193 260h2v1h-2zM195 261h1v1h-1zM196 262h1v1h-1zM197 263h2v1h-2zM199 264h1v1h-1zM200 265h2v1h-2zM202 266h3v1h-3zM205 267h2v1h-2zM207 268h3v1h-3zM210 269h2v1h-2zM212 270h2v1h-2zM214 271h2v1h-2zM216 272h2v1h-2zM218 273h3v1h-3zM221 274h2v1h-2zM223 275h22v1h-22zM245 276h12v1h-12zM257 277h2v1h-2zM259 278h1v1h-1zM260 279h1v1h-1zM261 280h2v1h-2zM263 281h1v1h-1zM264 282h2v1h-2zM266 283h2v1h-2zM268 284h2v1h-2zM270 285h2v1h-2zM272 286h3v1h-3zM275 287h4v1h-4zM279 288h4v1h-4zM283 289h4v1h-4zM287 290h6v1h-6zM293 291h6v1h-6zM299 290h4v1h-4zM303 289h14v1h-14zM317 290h6v1h-6zM323 291h4v1h-4zM327 292h12v1h-12zM339 291h4v1h-4zM343 290h3v1h-3zM346 289h2v1h-2zM348 288h2v1h-2zM350 287h2v1h-2zM352 286h9v1h-9zM361 287h2v1h-2zM363 288h2v1h-2zM365 289h1v1h-1zM366 290h2v1h-2zM368 291h1v1h-1zM369 292h2v1h-2zM371 293h2v1h-2zM373 294h1v1h-1zM374 295h2v1h-2zM376 296h2v1h-2zM378 297h2v1h-2zM380 298h2v1h-2zM382 299h2v1h-2zM384 300h1v1h-1zM385 301h2v1h-2zM387 302h2v1h-2zM389 303h1v1h-1zM390 304h2v1h-2zM392 305h1v1h-1zM393 306h1v1h-1zM394 307h1v1h-1zM395 308h2v1h-2zM397 309h1v1h-1zM398 310h1v1h-1zM399 311h1v1h-1zM400 312h1v1h-1zM401 313h2v1h-2zM403 314h1v1h-1zM404 315h1v1h-1zM405 316h2v1h-2zM407 317h1v1h-1zM408 318h1v1h-1zM409 319h2v1h-2zM411 320h2v1h-2zM413 321h1v1h-1zM414 322h2v1h-2zM416 323h1v1h-1zM417 324h2v1h-2zM419 325h1v1h-1zM420 326h1v1h-1zM421 327h2v1h-2zM423 328h1v1h-1zM424 329h5v1h-5zM429 328h6v1h-6zM435 329h4v1h-4zM439 330h12v1h-12zM451 331h4v1h-4zM455 332h3v1h-3zM458 333h2v1h-2zM460 334h2v1h-2zM462 335h2v1h-2zM464 336h1v1h-1zM465 337h2v1h-2zM467 338h1v1h-1zM468 339h1v1h-1zM469 340h2v1h-2zM471 341h1v1h-1zM472 342h2v1h-2zM474 343h3v1h-3zM477 344h2v1h-2zM479 345h3v1h-3zM482 346h2v1h-2zM484 347h2v1h-2zM486 348h2v1h-2zM488 349h2v1h-2zM490 350h3v1h-3zM493 351h2v1h-2zM495 352h3v1h-3zM498 353h2v1h-2zM500 354h2v1h-2zM502 355h2v1h-2zM504 356h2v1h-2zM506 357h3v1h-3zM509 358h2v1h-2zM511 359h2v1h-2zM513 360h1v1h-1zM514 361h1v1h-1zM515 362h1v1h-1zM516 363h1v1h-1zM517 364h1v1h-1zM518 365h1v1h-1zM519 366h1v1h-1zM520 367h2v1h-2zM522 368h3v1h-3zM525 369h2v1h-2zM527 370h6v1h-6zM533 371h8v1h-8zM541 372h5v1h-5zM546 373h2v1h-2zM548 374h2v1h-2zM550 375h2v1h-2zM552 376h3v1h-3zM555 377h4v1h-4zM559 378h6v1h-6zM565 377h8v1h-8zM573 378h5v1h-5zM578 379h3v1h-3zM581 380h2v1h-2zM583 381h3v1h-3zM586 382h2v1h-2zM588 383h2v1h-2zM590 384h2v1h-2zM592 385h2v1h-2zM594 386h2v1h-2zM596 387h2v1h-2zM598 388h2v1h-2zM600 389h2v1h-2zM602 390h2v1h-2zM604 391h2v1h-2zM606 392h2v1h-2zM608 393h2v1h-2zM610 394h3v1h-3zM613 395h2v1h-2zM615 396h14v1h-14zM629 397h5v1h-5zM634 398h3v1h-3zM637 399h2v1h-2zM639 400h3v1h-3zM642 401h2v1h-2zM644 402h2v1h-2zM646 403h2v1h-2zM648 404h2v1h-2zM650 405h2v1h-2zM652 406h2v1h-2zM654 407h2v1h-2zM656 408h1v1h-1zM657 409h2v1h-2zM659 410h2v1h-2zM661 411h1v1h-1zM662 412h2v1h-2zM664 413h2v1h-2zM666 414h2v1h-2zM668 415h2v1h-2zM670 416h2v1h-2zM672 417h1v1h-1zM673 418h2v1h-2zM675 419h1v1h-1zM676 420h1v1h-1zM677 421h2v1h-2zM679 422h1v1h-1zM680 423h2v1h-2zM682 424h2v1h-2zM684 425h2v1h-2zM686 426h2v1h-2zM688 427h1v1h-1zM689 428h2v1h-2zM691 429h2v1h-2zM693 430h1v1h-1zM694 431h2v1h-2zM696 432h2v1h-2zM698 433h3v1h-3zM701 434h2v1h-2zM703 435h3v1h-3zM706 436h3v1h-3zM709 437h2v1h-2zM711 438h4v1h-4zM715 439h4v1h-4zM719 440h4v1h-4zM723 441h4v1h-4zM727 442h2v1h-2zM729 443h2v1h-2zM731 444h2v1h-2zM733 445h1v1h-1zM734 446h2v1h-2zM736 447h2v1h-2zM738 448h2v1h-2zM740 449h2v1h-2zM742 450h2v1h-2zM744 451h5v1h-5zM749 450h6v1h-6zM755 449h4v1h-4zM759 448h14v1h-14zM773 447h32v1h-32zM805 446h8v1h-8zM813 447h5v1h-5zM818 448h2v1h-2zM820 449h2v1h-2zM822 450h2v1h-2zM824 451h2v1h-2zM826 452h2v1h-2zM828 453h2v1h-2zM830 454h2v1h-2zM832 455h5v1h-5zM837 456h8v1h-8zM845 457h8v1h-8zM853 456h6v1h-6zM859 455h4v1h-4zM863 454h6v1h-6zM869 455h5v1h-5zM874 454h3v1h-3zM877 453h2v1h-2zM879 452h2v1h-2zM881 451h1v1h-1zM882 450h1v1h-1zM883 449h2v1h-2zM885 448h1v1h-1zM886 447h1v1h-1zM887 446h1v1h-1zM888 445h1v1h-1zM889 444h1v1h-1zM890 443h1v1h-1zM891 442h1v1h-1zM892 441h1v1h-1zM893 440h1v1h-1zM894 439h1v1h-1zM895 438h1v1h-1zM896 437h1v1h-1zM897 436h1v1h-1zM898 435h1v1h-1zM899 434h1v1h-1zM900 432h1v2h-1zM901 431h1v1h-1zM902 430h1v1h-1zM903 429h1v1h-1zM904 428h1v1h-1zM905 427h1v1h-1zM906 425h1v2h-1zM907 424h1v1h-1zM908 423h1v1h-1zM909 422h1v1h-1zM910 420h1v2h-1zM911 419h1v1h-1zM912 418h1v1h-1zM913 417h1v1h-1zM914 416h1v1h-1zM915 415h2v1h-2zM917 414h1v1h-1zM918 413h1v1h-1zM919 412h1v1h-1zM920 411h1v1h-1zM921 410h2v1h-2zM923 409h1v1h-1zM924 408h1v1h-1zM925 407h2v1h-2zM927 406h1v1h-1zM928 405h3v1h-3zM931 404h4v1h-4zM935 403h2v1h-2zM937 402h2v1h-2zM939 401h2v1h-2zM941 400h1v1h-1zM942 399h2v1h-2zM944 398h5v1h-5zM949 397h14v1h-14zM963 396h4v1h-4zM967 395h3v1h-3zM970 394h2v1h-2zM972 393h2v1h-2zM974 392h2v1h-2zM976 391h1v1h-1zM977 389h1v2h-1zM978 387h1v2h-1zM979 385h1v2h-1zM980 384h1v1h-1zM981 382h1v2h-1zM982 380h1v2h-1zM983 378h1v2h-1zM984 376h1v2h-1zM985 374h1v2h-1zM986 372h1v2h-1zM987 370h1v2h-1zM988 368h1v2h-1zM989 366h1v2h-1zM990 364h1v2h-1zM991 362h1v2h-1zM992 361h1v1h-1zM993 359h1v2h-1zM994 357h1v2h-1zM995 355h1v2h-1zM996 354h1v1h-1zM997 352h1v2h-1zM998 350h1v2h-1zM999 348h1v2h-1zM1000 347h1v1h-1zM1001 345h1v2h-1zM1002 344h1v1h-1zM1003 342h1v2h-1zM1004 341h1v1h-1zM1005 339h1v2h-1zM1006 338h1v1h-1zM1007 336h1v2h-1zM1008 335h1v1h-1zM1009 334h1v1h-1zM1010 332h1v2h-1zM1011 331h1v1h-1zM1012 330h1v1h-1zM1013 329h1v1h-1zM1014 327h1v2h-1zM1015 326h1v1h-1zM1016 325h1v1h-1zM1017 324h1v1h-1zM1018 323h1v1h-1zM1019 322h1v1h-1zM1020 320h1v2h-1zM1021 319h1v1h-1zM1022 318h1v1h-1zM1023 317h1v1h-1zM1024 316h1v1h-1zM1025 315h1v1h-1zM1026 314h1v1h-1zM1027 313h1v1h-1zM1028 312h1v1h-1zM1029 311h1v1h-1zM1030 310h1v1h-1zM1031 309h1v1h-1zM1032 308h1v1h-1zM1033 307h2v1h-2zM1035 306h1v1h-1zM1036 305h1v1h-1zM1037 304h2v1h-2zM1039 303h1v1h-1zM1040 302h10v1h-10zM1050 303h3v1h-3zM1053 304h2v1h-2zM1055 305h6v1h-6zM1061 306h6v1h-6zM1067 307h4v1h-4zM1071 308h2v1h-2zM1073 309h1v1h-1zM1074 310h1v1h-1zM1075 311h2v1h-2zM1077 312h1v1h-1zM1078 313h1v1h-1zM1079 314h1v1h-1zM1080 315h2v1h-2zM1082 316h2v1h-2zM1084 317h2v1h-2zM1086 318h2v1h-2zM1088 319h2v1h-2zM1090 320h3v1h-3zM1093 321h2v1h-2zM1095 322h14v1h-14zM1109 323h4v1h-4z" fill="#ffff00"/>
<path d="M0 197h3v1h-3zM3 198h4v1h-4zM7 199h6v1h-6zM13 198h5v1h-5zM18 197h3v1h-3zM21 196h2v1h-2zM23 195h2v1h-2zM25 194h2v1h-2zM27 193h2v1h-2zM29 192h1v1h-1zM30 191h2v1h-2zM32 190h1v1h-1zM33 189h2v1h-2zM35 188h1v1h-1zM36 187h1v1h-1zM37 186h2v1h-2zM39 185h1v1h-1zM40 184h1v1h-1zM41 183h2v1h-2zM43 182h1v1h-1zM44 181h1v1h-1zM45 180h2v1h-2zM47 179h1v1h-1zM48 178h2v1h-2zM50 177h2v1h-2zM52 176h2v1h-2zM54 175h2v1h-2zM56 174h5v1h-5zM61 175h6v1h-6zM67 176h4v1h-4zM71 177h2v1h-2zM73 178h2v1h-2zM75 179h1v1h-1zM76 180h1v1h-1zM77 181h2v1h-2zM79 182h1v1h-1zM80 183h5v1h-5zM85 182h4v1h-4zM89 183h1v1h-1zM90 184h1v2h-1zM91 186h1v1h-1zM92 187h1v1h-1zM93 188h1v1h-1zM94 189h1v2h-1zM95 191h1v1h-1zM96 192h1v1h-1zM97 193h1v1h-1zM98 194h1v1h-1zM99 195h1v1h-1zM100 196h1v1h-1zM101 197h1v1h-1zM102 198h1v1h-1zM103 199h1v1h-1zM104 200h1v1h-1zM105 201h1v2h-1zM106 203h1v2h-1zM107 205h1v2h-1zM108 207h1v1h-1zM109 208h1v2h-1zM110 210h1v2h-1zM111 212h1v2h-1zM112 214h1v1h-1zM113 215h1v2h-1zM114 217h1v1h-1zM115 218h1v2h-1zM116 220h1v1h-1zM117 221h1v2h-1zM118 223h1v1h-1zM119 224h1v2h-1zM120 226h1v2h-1zM121 228h1v2h-1zM122 230h1v2h-1zM123 232h1v2h-1zM124 234h1v2h-1zM125 236h1v2h-1zM126 238h1v2h-1zM127 240h1v2h-1zM128 242h1v1h-1zM129 243h1v2h-1zM130 245h1v2h-1zM131 247h1v2h-1zM132 249h1v2h-1zM133 251h1v2h-1zM134 253h1v2h-1zM135 255h1v2h-1zM136 257h1v1h-1zM137 258h1v2h-1zM138 260h1v2h-1zM139 262h1v2h-1zM140 264h1v1h-1zM141 265h1v2h-1zM142 267h1v2h-1zM143 269h1v2h-1zM144 271h1v1h-1zM145 272h1v1h-1zM146 273h1v1h-1zM147 274h1v1h-1zM148 275h1v2h-1zM149 277h1v1h-1zM150 278h1v1h-1zM151 279h1v1h-1zM152 280h1v1h-1zM153 281h1v1h-1zM154 282h1v1h-1zM155 283h1v1h-1zM156 284h1v1h-1zM157 285h1v1h-1zM158 286h1v1h-1zM159 287h1v1h-1zM160 288h1v1h-1zM161 289h2v1h-2zM163 290h1v1h-1zM164 291h1v1h-1zM165 292h2v1h-2zM167 293h1v1h-1zM168 294h2v1h-2zM170 295h3v1h-3zM173 296h2v1h-2zM175 297h6v1h-6zM181 296h5v1h-5zM186 295h2v1h-2zM188 294h2v1h-2zM190 293h2v1h-2zM192 292h1v1h-1zM193 291h2v1h-2zM195 290h1v1h-1zM196 289h1v1h-1zM197 288h2v1h-2zM199 287h1v1h-1zM200 286h1v1h-1zM201 285h1v1h-1zM202 284h1v1h-1zM203 283h1v1h-1zM204 281h1v2h-1zM205 280h1v1h-1zM206 279h1v1h-1zM207 278h1v1h-1zM208 277h2v1h-2zM210 276h2v1h-2zM212 275h2v1h-2zM214 274h2v1h-2zM216 273h1v1h-1zM217 272h1v1h-1zM218 271h1v1h-1zM219 270h1v1h-1zM220 269h1v1h-1zM221 268h1v1h-1zM222 267h1v1h-1zM223 266h1v1h-1zM224 265h1v1h-1zM225 264h2v1h-2zM227 263h1v1h-1zM228 262h1v1h-1zM229 261h2v1h-2zM231 260h1v1h-1zM232 259h2v1h-2zM234 258h2v1h-2zM236 257h2v1h-2zM238 256h2v1h-2zM240 255h3v1h-3zM243 254h4v1h-4zM247 253h6v1h-6zM253 254h4v1h-4zM257 255h1v2h-1zM258 257h1v1h-1zM259 258h1v2h-1zM260 260h1v1h-1zM261 261h1v2h-1zM262 263h1v1h-1zM263 264h1v2h-1zM264 266h1v1h-1zM265 267h1v1h-1zM266 268h1v1h-1zM267 269h1v1h-1zM268 270h1v2h-1zM269 272h1v1h-1zM270 273h1v1h-1zM271 274h1v1h-1zM272 275h1v1h-1zM273 276h1v1h-1zM274 277h1v2h-1zM275 279h1v1h-1zM276 280h1v1h-1zM277 281h1v1h-1zM278 282h1v2h-1zM279 284h1v1h-1zM280 285h1v1h-1zM281 286h1v1h-1zM282 287h1v1h-1zM283 288h2v1h-2zM285 289h1v1h-1zM286 290h1v1h-1zM287 291h1v1h-1zM288 292h1v1h-1zM289 293h2v1h-2zM291 294h2v1h-2zM293 295h1v1h-1zM294 296h2v1h-2zM296 297h2v1h-2zM298 298h2v1h-2zM300 299h2v1h-2zM302 300h2v1h-2zM304 301h1v1h-1zM305 302h1v1h-1zM306 303h1v1h-1zM307 304h2v1h-2zM309 305h1v1h-1zM310 306h1v1h-1zM311 307h1v1h-1zM312 308h1v1h-1zM313 309h2v1h-2zM315 310h1v1h-1zM316 311h1v1h-1zM317 312h2v1h-2zM319 313h1v1h-1zM320 314h2v1h-2zM322 315h2v1h-2zM324 316h2v1h-2zM326 317h2v1h-2zM328 318h5v1h-5zM333 319h6v1h-6zM339 320h4v1h-4zM343 321h2v1h-2zM345 320h1v1h-1zM346 319h1v1h-1zM347 318h2v1h-2zM349 317h1v1h-1zM350 316h1v1h-1zM351 315h1v1h-1zM352 314h1v1h-1zM353 313h1v1h-1zM354 312h1v1h-1zM355 311h2v1h-2zM357 310h1v1h-1zM358 309h1v1h-1zM359 308h1v1h-1zM360 307h5v1h-5zM365 308h4v1h-4zM369 307h1v1h-1zM370 306h1v1h-1zM371 305h1v1h-1zM372 304h1v1h-1zM373 303h1v1h-1zM374 302h1v1h-1zM375 301h1v1h-1zM376 300h1v1h-1zM377 299h1v1h-1zM378 298h1v1h-1zM379 297h2v1h-2zM381 296h1v1h-1zM382 295h1v1h-1zM383 294h1v1h-1zM384 293h2v1h-2zM386 292h3v1h-3zM389 291h2v1h-2zM391 290h6v1h-6zM397 291h4v1h-4zM401 292h2v1h-2zM403 293h1v1h-1zM404 294h1v1h-1zM405 295h2v1h-2zM407 296h1v1h-1zM408 297h1v1h-1zM409 298h1v1h-1zM410 299h1v1h-1zM411 300h1v1h-1zM412 301h1v2h-1zM413 303h1v1h-1zM414 304h1v1h-1zM415 305h1v1h-1zM416 306h1v1h-1zM417 307h1v1h-1zM418 308h1v1h-1zM419 309h2v1h-2zM421 310h1v1h-1zM422 311h1v1h-1zM423 312h1v1h-1zM424 313h1v1h-1zM425 314h1v1h-1zM426 315h1v2h-1zM427 317h1v1h-1zM428 318h1v1h-1zM429 319h1v1h-1zM430 320h1v2h-1zM431 322h1v1h-1zM432 323h1v1h-1zM433 324h1v1h-1zM434 325h1v2h-1zM435 327h1v1h-1zM436 328h1v1h-1zM437 329h1v1h-1zM438 330h1v2h-1zM439 332h1v1h-1zM440 333h1v1h-1zM441 334h1v1h-1zM442 335h1v2h-1zM443 337h1v1h-1zM444 338h1v1h-1zM445 339h1v1h-1zM446 340h1v2h-1zM447 342h1v1h-1zM448 343h1v1h-1zM449 344h1v1h-1zM450 345h1v2h-1zM451 347h1v1h-1zM452 348h1v1h-1zM453 349h1v1h-1zM454 350h1v2h-1zM455 352h1v1h-1zM456 353h1v2h-1zM457 355h1v2h-1zM458 357h1v2h-1zM459 359h1v2h-1zM460 361h1v2h-1zM461 363h1v2h-1zM462 365h1v2h-1zM463 367h1v2h-1zM464 369h1v2h-1zM465 371h1v2h-1zM466 373h1v2h-1zM467 375h1v1h-1zM468 376h1v2h-1zM469 378h1v1h-1zM470 379h1v2h-1zM471 381h1v2h-1zM472 383h1v1h-1zM473 384h2v1h-2zM475 385h1v1h-1zM476 386h1v1h-1zM477 387h2v1h-2zM479 388h1v1h-1zM480 389h3v1h-3zM483 390h4v1h-4zM487 391h3v1h-3zM490 392h3v1h-3zM493 393h2v1h-2zM495 394h4v1h-4zM499 395h4v1h-4zM503 396h3v1h-3zM506 395h2v1h-2zM508 394h2v1h-2zM510 393h2v1h-2zM512 392h1v1h-1zM513 391h2v1h-2zM515 390h1v1h-1zM516 389h1v1h-1zM517 388h2v1h-2zM519 387h1v1h-1zM520 386h1v1h-1zM521 385h1v1h-1zM522 384h1v1h-1zM523 383h1v1h-1zM524 382h1v1h-1zM525 381h1v1h-1zM526 380h1v1h-1zM527 379h1v1h-1zM528 378h1v1h-1zM529 377h1v1h-1zM530 376h1v1h-1zM531 375h2v1h-2zM533 374h1v1h-1zM534 373h1v1h-1zM535 372h1v1h-1zM536 371h1v1h-1zM537 370h1v1h-1zM538 369h1v1h-1zM539 368h1v1h-1zM540 367h1v1h-1zM541 366h1v1h-1zM542 365h1v1h-1zM543 364h1v1h-1zM544 363h5v1h-5zM549 362h13v1h-13zM562 361h3v1h-3zM565 360h2v1h-2zM567 359h11v1h-11zM578 360h2v1h-2zM580 361h2v1h-2zM582 362h2v1h-2zM584 363h1v1h-1zM585 364h1v1h-1zM586 365h1v2h-1zM587 367h1v1h-1zM588 368h1v1h-1zM589 369h1v1h-1zM590 370h1v2h-1zM591 372h1v1h-1zM592 373h1v1h-1zM593 374h1v2h-1zM594 376h1v1h-1zM595 377h1v1h-1zM596 378h1v2h-1zM597 380h1v1h-1zM598 381h1v1h-1zM599 382h1v2h-1zM600 384h1v1h-1zM601 385h1v2h-1zM602 387h1v1h-1zM603 388h1v2h-1zM604 390h1v1h-1zM605 391h1v2h-1zM606 393h1v1h-1zM607 394h1v2h-1zM608 396h1v1h-1zM609 397h2v1h-2zM611 398h1v1h-1zM612 399h1v1h-1zM613 400h2v1h-2zM615 401h1v1h-1zM616 402h1v1h-1zM617 403h2v1h-2zM619 404h1v1h-1zM620 405h1v1h-1zM621 406h2v1h-2zM623 407h1v1h-1zM624 408h1v1h-1zM625 409h1v1h-1zM626 410h1v2h-1zM627 412h1v1h-1zM628 413h1v1h-1zM629 414h1v1h-1zM630 415h1v2h-1zM631 417h1v1h-1zM632 418h1v1h-1zM633 419h1v2h-1zM634 421h1v1h-1zM635 422h1v1h-1zM636 423h1v2h-1zM637 425h1v1h-1zM638 426h1v1h-1zM639 427h1v2h-1zM640 429h1v1h-1zM641 430h1v1h-1zM642 431h1v1h-1zM643 432h1v1h-1zM644 433h1v2h-1zM645 435h1v1h-1zM646 436h1v1h-1zM647 437h1v1h-1zM648 438h1v1h-1zM649 439h1v1h-1zM650 440h1v1h-1zM651 441h1v1h-1zM652 442h1v1h-1zM653 443h1v1h-1zM654 444h1v1h-1zM655 445h1v1h-1zM656 446h2v1h-2zM658 447h2v1h-2zM660 448h2v1h-2zM662 449h2v1h-2zM664 450h1v1h-1zM665 451h2v1h-2zM667 452h1v1h-1zM668 453h1v1h-1zM669 454h2v1h-2zM671 455h1v1h-1zM672 456h2v1h-2zM674 457h2v1h-2zM676 458h2v1h-2zM678 459h2v1h-2zM680 460h9v1h-9zM689 459h2v1h-2zM691 458h2v1h-2zM693 457h1v1h-1zM694 456h2v1h-2zM696 455h1v1h-1zM697 454h1v1h-1zM698 453h1v1h-1zM699 452h1v1h-1zM700 450h1v2h-1zM701 449h1v1h-1zM702 448h1v1h-1zM703 447h1v1h-1zM704 446h1v1h-1zM705 445h1v1h-1zM706 444h1v1h-1zM707 443h1v1h-1zM708 442h1v1h-1zM709 441h1v1h-1zM710 440h1v1h-1zM711 439h1v1h-1zM712 438h1v1h-1zM713 437h2v1h-2zM715 436h2v1h-2zM717 435h1v1h-1zM718 434h2v1h-2zM720 433h3v1h-3zM723 432h4v1h-4zM727 431h3v1h-3zM730 432h2v1h-2zM732 433h2v1h-2zM734 434h2v1h-2zM736 435h2v1h-2zM738 436h2v1h-2zM740 437h2v1h-2zM742 438h2v1h-2zM744 439h5v1h-5zM749 440h6v1h-6zM755 441h4v1h-4zM759 442h4v1h-4zM763 443h4v1h-4zM767 444h3v1h-3zM770 445h3v1h-3zM773 446h2v1h-2zM775 447h6v1h-6zM781 448h21v1h-21zM802 449h3v1h-3zM805 450h2v1h-2zM807 451h2v1h-2zM809 452h2v1h-2zM811 453h1v1h-1zM812 454h1v1h-1zM813 455h2v1h-2zM815 456h1v1h-1zM816 457h1v1h-1zM817 458h1v1h-1zM818 459h1v1h-1zM819 460h1v1h-1zM820 461h1v1h-1zM821 462h1v1h-1zM822 463h1v1h-1zM823 464h1v1h-1zM824 465h1v1h-1zM825 466h2v1h-2zM827 467h1v1h-1zM828 468h1v1h-1zM829 469h2v1h-2zM831 470h1v1h-1zM832 471h3v1h-3zM835 472h4v1h-4zM839 473h6v1h-6zM845 472h6v1h-6zM851 471h4v1h-4zM855 470h2v1h-2zM857 469h1v1h-1zM858 468h1v1h-1zM859 467h1v1h-1zM860 465h1v2h-1zM861 464h1v1h-1zM862 463h1v1h-1zM863 462h1v1h-1zM864 461h1v1h-1zM865 460h1v1h-1zM866 459h1v1h-1zM867 458h1v1h-1zM868 457h1v1h-1zM869 456h1v1h-1zM870 455h1v1h-1zM871 454h1v1h-1zM872 453h1v1h-1zM873 452h1v1h-1zM874 450h1v2h-1zM875 449h1v1h-1zM876 448h1v1h-1zM877 447h1v1h-1zM878 445h1v2h-1zM879 444h1v1h-1zM880 443h1v1h-1zM881 441h1v2h-1zM882 439h1v2h-1zM883 437h1v2h-1zM884 435h1v2h-1zM885 433h1v2h-1zM886 431h1v2h-1zM887 429h1v2h-1zM888 428h1v1h-1zM889 426h1v2h-1zM890 424h1v2h-1zM891 422h1v2h-1zM892 421h1v1h-1zM893 419h1v2h-1zM894 417h1v2h-1zM895 415h1v2h-1zM896 414h1v1h-1zM897 413h1v1h-1zM898 412h1v1h-1zM899 411h1v1h-1zM900 409h1v2h-1zM901 408h1v1h-1zM902 407h1v1h-1zM903 406h1v1h-1zM904 405h1v1h-1zM905 404h1v1h-1zM906 402h1v2h-1zM907 401h1v1h-1zM908 400h1v1h-1zM909 399h1v1h-1zM910 397h1v2h-1zM911 396h1v1h-1zM912 395h1v1h-1zM913 394h1v1h-1zM914 393h1v1h-1zM915 392h1v1h-1zM916 390h1v2h-1zM917 389h1v1h-1zM918 388h1v1h-1zM919 387h1v1h-1zM920 386h1v1h-1zM921 385h1v1h-1zM922 384h1v1h-1zM923 383h1v1h-1zM924 381h1v2h-1zM925 380h1v1h-1zM926 379h1v1h-1zM927 378h1v1h-1zM928 377h1v1h-1zM929 376h2v1h-2zM931 375h2v1h-2zM933 374h1v1h-1zM934 373h2v1h-2zM936 372h1v1h-1zM937 371h1v1h-1zM938 370h1v1h-1zM939 369h1v1h-1zM940 368h1v1h-1zM941 367h1v1h-1zM942 366h1v1h-1zM943 365h1v1h-1zM944 364h2v1h-2zM946 363h2v1h-2zM948 362h2v1h-2zM950 361h2v1h-2zM952 360h3v1h-3zM955 359h4v1h-4zM959 358h11v1h-11zM970 357h2v1h-2zM972 356h2v1h-2zM974 355h2v1h-2zM976 354h1v1h-1zM977 352h1v2h-1zM978 351h1v1h-1zM979 350h1v1h-1zM980 348h1v2h-1zM981 347h1v1h-1zM982 346h1v1h-1zM983 344h1v2h-1zM984 343h1v1h-1zM985 341h1v2h-1zM986 340h1v1h-1zM987 339h1v1h-1zM988 337h1v2h-1zM989 336h1v1h-1zM990 335h1v1h-1zM991 333h1v2h-1zM992 332h1v1h-1zM993 331h2v1h-2zM995 330h2v1h-2zM997 329h1v1h-1zM998 328h2v1h-2zM1000 327h2v1h-2zM1002 326h2v1h-2zM1004 325h2v1h-2zM1006 324h2v1h-2zM1008 323h1v1h-1zM1009 322h2v1h-2zM1011 321h2v1h-2zM1013 320h1v1h-1zM1014 319h2v1h-2zM1016 318h2v1h-2zM1018 317h3v1h-3zM1021 316h2v1h-2zM1023 315h2v1h-2zM1025 314h1v1h-1zM1026 313h1v1h-1zM1027 312h2v1h-2zM1029 311h1v1h-1zM1030 310h1v1h-1zM1031 309h1v1h-1zM1032 308h1v1h-1zM1033 307h1v1h-1zM1034 306h1v1h-1zM1035 305h1v1h-1zM1036 304h1v1h-1zM1037 303h1v1h-1zM1038 302h1v1h-1zM1039 301h1v1h-1zM1040 300h1v1h-1zM1041 299h1v1h-1zM1042 298h1v1h-1zM1043 297h2v1h-2zM1045 296h1v1h-1zM1046 295h1v1h-1zM1047 294h1v1h-1zM1048 293h1v1h-1zM1049 292h1v1h-1zM1050 291h1v1h-1zM1051 290h2v1h-2zM1053 289h1v1h-1zM1054 288h1v1h-1zM1055 287h1v1h-1zM1056 286h1v1h-1zM1057 285h2v1h-2zM1059 284h1v1h-1zM1060 283h1v1h-1zM1061 282h2v1h-2zM1063 281h1v1h-1zM1064 280h1v1h-1zM1065 279h1v1h-1zM1066 278h1v1h-1zM1067 277h2v1h-2zM1069 276h1v1h-1zM1070 275h1v1h-1zM1071 274h1v1h-1zM1072 273h3v1h-3zM1075 274h4v1h-4zM1079 275h2v1h-2zM1081 276h2v1h-2zM1083 277h1v1h-1zM1084 278h1v1h-1zM1085 279h2v1h-2zM1087 280h1v1h-1zM1088 281h1v1h-1zM1089 282h1v2h-1zM1090 284h1v2h-1zM1091 286h1v2h-1zM1092 288h1v1h-1zM1093 289h1v2h-1zM1094 291h1v2h-1zM1095 293h1v2h-1zM1096 295h1v2h-1zM1097 297h1v2h-1zM1098 299h1v2h-1zM1099 301h1v2h-1zM1100 303h1v2h-1zM1101 305h1v2h-1zM1102 307h1v2h-1zM1103 309h1v2h-1zM1104 311h1v1h-1zM1105 312h1v2h-1zM1106 314h1v2h-1zM1107 316h1v2h-1zM1108 318h1v2h-1zM1109 320h1v2h-1zM1110 322h1v2h-1zM1111 324h1v2h-1zM1112 326h1v1h-1z" fill="#ff0000"/>
<path d="M0 213h1v1h-1zM1 211h1v2h-1zM2 210h1v1h-1zM3 208h1v2h-1zM4 207h1v1h-1zM5 205h1v2h-1zM6 204h1v1h-1zM7 202h1v2h-1zM8 200h1v2h-1zM9 197h1v3h-1zM10 195h1v2h-1zM11 192h1v3h-1zM12 189h1v3h-1zM13 186h1v3h-1zM14 184h1v2h-1zM15 181h1v3h-1zM16 179h1v2h-1zM17 177h1v2h-1zM18 176h1v1h-1zM19 174h1v2h-1zM20 173h1v1h-1zM21 171h1v2h-1zM22 170h1v1h-1zM23 168h1v2h-1zM24 166h1v2h-1zM25 163h1v3h-1zM26 160h1v3h-1zM27 157h1v3h-1zM28 155h1v2h-1zM29 152h1v3h-1zM30 149h1v3h-1zM31 146h1v3h-1zM32 144h1v2h-1zM33 143h1v1h-1zM34 142h1v1h-1zM35 141h1v1h-1zM36 140h1v1h-1zM37 139h1v1h-1zM38 138h1v1h-1zM39 137h1v1h-1zM40 136h2v1h-2zM42 135h2v1h-2zM44 134h2v1h-2zM46 133h2v1h-2zM48 132h2v1h-2zM50 133h2v1h-2zM52 134h2v1h-2zM54 135h2v1h-2zM56 136h1v1h-1zM57 137h1v2h-1zM58 139h1v2h-1zM59 141h1v1h-1zM60 142h1v2h-1zM61 144h1v1h-1zM62 145h1v2h-1zM63 147h1v2h-1zM64 149h1v2h-1zM65 151h1v3h-1zM66 154h1v3h-1zM67 157h1v3h-1zM68 160h1v4h-1zM69 164h1v3h-1zM70 167h1v3h-1zM71 170h1v3h-1zM72 173h1v3h-1zM73 176h1v3h-1zM74 179h1v2h-1zM75 181h1v3h-1zM76 184h1v3h-1zM77 187h1v3h-1zM78 190h1v2h-1zM79 192h1v3h-1zM80 195h1v3h-1zM81 198h1v3h-1zM82 201h1v3h-1zM83 204h1v3h-1zM84 207h1v2h-1zM85 209h1v3h-1zM86 212h1v3h-1zM87 215h1v3h-1zM88 218h1v4h-1zM89 222h1v4h-1zM90 226h1v4h-1zM91 230h1v4h-1zM92 234h1v4h-1zM93 238h1v4h-1zM94 242h1v4h-1zM95 246h1v4h-1zM96 250h1v3h-1zM97 253h1v2h-1zM98 255h1v2h-1zM99 257h1v2h-1zM100 259h1v2h-1zM101 261h1v2h-1zM102 263h1v2h-1zM103 265h1v2h-1zM104 267h1v2h-1zM105 269h1v3h-1zM106 272h1v3h-1zM107 275h1v3h-1zM108 278h1v3h-1zM109 281h1v3h-1zM110 284h1v3h-1zM111 287h1v3h-1zM112 290h1v2h-1zM113 292h1v2h-1zM114 294h1v2h-1zM115 296h1v2h-1zM116 298h1v2h-1zM117 300h1v2h-1zM118 302h1v2h-1zM119 304h1v2h-1zM120 306h1v1h-1zM121 307h1v1h-1zM122 308h1v1h-1zM123 309h1v1h-1zM124 310h1v1h-1zM125 311h1v1h-1zM126 312h1v1h-1zM127 313h1v1h-1zM128 314h1v1h-1zM129 315h2v1h-2zM131 316h2v1h-2zM133 317h1v1h-1zM134 318h2v1h-2zM136 319h3v1h-3zM139 320h4v1h-4zM143 321h2v1h-2zM145 319h1v2h-1zM146 318h1v1h-1zM147 317h1v1h-1zM148 315h1v2h-1zM149 314h1v1h-1zM150 313h1v1h-1zM151 311h1v2h-1zM152 310h3v1h-3zM155 309h4v1h-4zM159 308h2v1h-2zM161 306h1v2h-1zM162 304h1v2h-1zM163 303h1v1h-1zM164 301h1v2h-1zM165 300h1v1h-1zM166 298h1v2h-1zM167 296h1v2h-1zM168 295h1v1h-1zM169 294h1v1h-1zM170 293h1v1h-1zM171 292h1v1h-1zM172 291h1v1h-1zM173 290h1v1h-1zM174 289h1v1h-1zM175 288h1v1h-1zM176 287h1v1h-1zM177 286h1v1h-1zM178 285h1v1h-1zM179 284h1v1h-1zM180 282h1v2h-1zM181 281h1v1h-1zM182 280h1v1h-1zM183 279h1v1h-1zM184 278h1v1h-1zM185 276h1v2h-1zM186 275h1v1h-1zM187 273h1v2h-1zM188 272h1v1h-1zM189 270h1v2h-1zM190 269h1v1h-1zM191 267h1v2h-1zM192 266h1v1h-1zM193 264h1v2h-1zM194 262h1v2h-1zM195 260h1v2h-1zM196 258h1v2h-1zM197 256h1v2h-1zM198 254h1v2h-1zM199 252h1v2h-1zM200 251h1v1h-1zM201 250h1v1h-1zM202 249h1v1h-1zM203 248h2v1h-2zM205 247h1v1h-1zM206 246h1v1h-1zM207 245h1v1h-1zM208 244h2v1h-2zM210 243h2v1h-2zM212 242h2v1h-2zM214 241h2v1h-2zM216 240h2v1h-2zM218 239h3v1h-3zM221 238h2v1h-2zM223 237h2v1h-2zM225 236h2v1h-2zM227 235h1v1h-1zM228 234h1v1h-1zM229 233h2v1h-2zM231 232h1v1h-1zM232 231h5v1h-5zM237 232h4v1h-4zM241 233h1v1h-1zM242 234h1v1h-1zM243 235h1v1h-1zM244 236h1v2h-1zM245 238h1v1h-1zM246 239h1v1h-1zM247 240h1v1h-1zM248 241h1v1h-1zM249 242h1v2h-1zM250 244h1v2h-1zM251 246h1v2h-1zM252 248h1v1h-1zM253 249h1v2h-1zM254 251h1v2h-1zM255 253h1v2h-1zM256 255h1v3h-1zM257 258h1v4h-1zM258 262h1v4h-1zM259 266h1v5h-1zM260 271h1v4h-1zM261 275h1v5h-1zM262 280h1v4h-1zM263 284h1v4h-1zM264 288h1v4h-1zM265 292h1v3h-1zM266 295h1v3h-1zM267 298h1v3h-1zM268 301h1v4h-1zM269 305h1v3h-1zM270 308h1v3h-1zM271 311h1v3h-1zM272 314h1v3h-1zM273 317h1v2h-1zM274 319h1v2h-1zM275 321h1v3h-1zM276 324h1v2h-1zM277 326h1v3h-1zM278 329h1v2h-1zM279 331h1v2h-1zM280 333h1v3h-1zM281 336h1v2h-1zM282 338h1v2h-1zM283 340h1v2h-1zM284 342h1v2h-1zM285 344h1v2h-1zM286 346h1v2h-1zM287 348h1v2h-1zM288 350h1v2h-1zM289 352h1v2h-1zM290 354h1v1h-1zM291 355h1v1h-1zM292 356h1v2h-1zM293 358h1v1h-1zM294 359h1v1h-1zM295 360h1v2h-1zM296 362h2v1h-2zM298 361h2v1h-2zM300 360h2v1h-2zM302 359h2v1h-2zM304 358h5v1h-5zM309 359h4v1h-4zM312 358h1v1h-1zM313 356h1v2h-1zM314 354h1v2h-1zM315 352h1v2h-1zM316 349h1v3h-1zM317 347h1v2h-1zM318 345h1v2h-1zM319 343h1v2h-1zM320 340h1v3h-1zM321 338h1v2h-1zM322 336h1v2h-1zM323 334h1v2h-1zM324 332h1v2h-1zM325 330h1v2h-1zM326 328h1v2h-1zM327 326h1v2h-1zM328 324h1v2h-1zM329 322h1v2h-1zM330 320h1v2h-1zM331 317h1v3h-1zM332 315h1v2h-1zM333 312h1v3h-1zM334 310h1v2h-1zM335 308h1v2h-1zM336 305h1v3h-1zM337 303h1v2h-1zM338 300h1v3h-1zM339 298h1v2h-1zM340 295h1v3h-1zM341 293h1v2h-1zM342 290h1v3h-1zM343 288h1v2h-1zM344 285h1v3h-1zM345 283h1v2h-1zM346 280h1v3h-1zM347 277h1v3h-1zM348 275h1v2h-1zM349 272h1v3h-1zM350 269h1v3h-1zM351 267h1v2h-1zM352 265h1v2h-1zM353 264h1v1h-1zM354 263h1v1h-1zM355 262h1v1h-1zM356 261h1v1h-1zM357 260h1v1h-1zM358 259h1v1h-1zM359 258h1v1h-1zM360 257h3v1h-3zM363 258h4v1h-4zM367 259h3v1h-3zM370 260h2v1h-2zM372 261h2v1h-2zM374 262h2v1h-2zM376 263h5v1h-5zM381 264h4v1h-4zM385 265h1v1h-1zM386 266h1v1h-1zM387 267h1v1h-1zM388 268h1v2h-1zM389 270h1v1h-1zM390 271h1v1h-1zM391 272h1v1h-1zM392 273h1v2h-1zM393 275h1v2h-1zM394 277h1v2h-1zM395 279h1v2h-1zM396 281h1v3h-1zM397 284h1v2h-1zM398 286h1v2h-1zM399 288h1v2h-1zM400 290h1v3h-1zM401 293h1v4h-1zM402 297h1v4h-1zM403 301h1v3h-1zM404 304h1v4h-1zM405 308h1v3h-1zM406 311h1v4h-1zM407 315h1v4h-1zM408 319h1v4h-1zM409 323h1v4h-1zM410 327h1v4h-1zM411 331h1v4h-1zM412 335h1v5h-1zM413 340h1v4h-1zM414 344h1v4h-1zM415 348h1v4h-1zM416 352h1v3h-1zM417 355h1v2h-1zM418 357h1v1h-1zM419 358h1v2h-1zM420 360h1v1h-1zM421 361h1v2h-1zM422 363h1v1h-1zM423 364h1v2h-1zM424 366h1v2h-1zM425 368h1v2h-1zM426 370h1v2h-1zM427 372h1v3h-1zM428 375h1v2h-1zM429 377h1v3h-1zM430 380h1v2h-1zM431 382h1v2h-1zM432 384h1v3h-1zM433 387h1v2h-1zM434 389h1v2h-1zM435 391h1v2h-1zM436 393h1v3h-1zM437 396h1v2h-1zM438 398h1v2h-1zM439 400h1v2h-1zM440 402h1v2h-1zM441 404h2v1h-2zM443 405h2v1h-2zM445 406h1v1h-1zM446 407h2v1h-2zM448 408h1v1h-1zM449 409h2v1h-2zM451 410h1v1h-1zM452 411h1v1h-1zM453 412h2v1h-2zM455 413h1v1h-1zM456 414h3v1h-3zM459 415h4v1h-4zM463 416h6v1h-6zM469 415h4v1h-4zM473 414h2v1h-2zM475 413h1v1h-1zM476 412h1v1h-1zM477 411h2v1h-2zM479 410h1v1h-1zM480 409h1v1h-1zM481 407h1v2h-1zM482 405h1v2h-1zM483 404h1v1h-1zM484 402h1v2h-1zM485 401h1v1h-1zM486 399h1v2h-1zM487 397h1v2h-1zM488 396h1v1h-1zM489 395h1v1h-1zM490 393h1v2h-1zM491 392h1v1h-1zM492 391h1v1h-1zM493 390h1v1h-1zM494 388h1v2h-1zM495 387h1v1h-1zM496 386h2v1h-2zM498 385h3v1h-3zM501 384h2v1h-2zM503 383h2v1h-2zM505 381h1v2h-1zM506 379h1v2h-1zM507 377h1v2h-1zM508 375h1v2h-1zM509 373h1v2h-1zM510 371h1v2h-1zM511 369h1v2h-1zM512 368h1v1h-1zM513 366h1v2h-1zM514 364h1v2h-1zM515 363h1v1h-1zM516 361h1v2h-1zM517 360h1v1h-1zM518 358h1v2h-1zM519 356h1v2h-1zM520 355h1v1h-1zM521 353h1v2h-1zM522 351h1v2h-1zM523 349h1v2h-1zM524 347h1v2h-1zM525 345h1v2h-1zM526 343h1v2h-1zM527 341h1v2h-1zM528 340h1v1h-1zM529 339h2v1h-2zM531 338h1v1h-1zM532 337h1v1h-1zM533 336h2v1h-2zM535 335h1v1h-1zM536 334h2v1h-2zM538 333h2v1h-2zM540 332h2v1h-2zM542 331h2v1h-2zM544 330h1v1h-1zM545 331h1v1h-1zM546 332h1v1h-1zM547 333h1v1h-1zM548 334h1v1h-1zM549 335h1v1h-1zM550 336h1v1h-1zM551 337h1v1h-1zM552 338h2v1h-2zM554 339h2v1h-2zM556 340h2v1h-2zM558 341h2v1h-2zM560 342h1v1h-1zM561 343h2v1h-2zM563 344h1v1h-1zM564 345h1v1h-1zM565 346h2v1h-2zM567 347h1v1h-1zM568 348h1v1h-1zM569 349h1v2h-1zM570 351h1v2h-1zM571 353h1v2h-1zM572 355h1v1h-1zM573 356h1v2h-1zM574 358h1v2h-1zM575 360h1v2h-1zM576 362h1v2h-1zM577 364h1v3h-1zM578 367h1v3h-1zM579 370h1v3h-1zM580 373h1v2h-1zM581 375h1v3h-1zM582 378h1v3h-1zM583 381h1v3h-1zM584 384h1v3h-1zM585 387h1v4h-1zM586 391h1v4h-1zM587 395h1v3h-1zM588 398h1v4h-1zM589 402h1v3h-1zM590 405h1v4h-1zM591 409h1v4h-1zM592 413h1v3h-1zM593 416h1v3h-1zM594 419h1v3h-1zM595 422h1v3h-1zM596 425h1v3h-1zM597 428h1v3h-1zM598 431h1v3h-1zM599 434h1v3h-1zM600 437h1v2h-1zM601 439h1v2h-1zM602 441h1v2h-1zM603 443h1v2h-1zM604 445h1v1h-1zM605 446h1v2h-1zM606 448h1v2h-1zM607 450h1v2h-1zM608 452h1v1h-1zM609 453h1v2h-1zM610 455h1v1h-1zM611 456h1v2h-1zM612 458h1v1h-1zM613 459h1v2h-1zM614 461h1v1h-1zM615 462h1v2h-1zM616 464h1v1h-1zM617 465h1v1h-1zM618 466h1v1h-1zM619 467h2v1h-2zM621 468h1v1h-1zM622 469h1v1h-1zM623 470h1v1h-1zM624 471h2v1h-2zM626 472h2v1h-2zM628 473h2v1h-2zM630 474h2v1h-2zM632 475h2v1h-2zM634 474h2v1h-2zM636 473h2v1h-2zM638 472h2v1h-2zM640 471h1v1h-1zM641 469h1v2h-1zM642 468h1v1h-1zM643 467h1v1h-1zM644 465h1v2h-1zM645 464h1v1h-1zM646 463h1v1h-1zM647 461h1v2h-1zM648 460h2v1h-2zM650 459h2v1h-2zM652 458h2v1h-2zM654 457h2v1h-2zM656 456h1v1h-1zM657 455h1v1h-1zM658 454h1v1h-1zM659 453h1v1h-1zM660 451h1v2h-1zM661 450h1v1h-1zM662 449h1v1h-1zM663 448h1v1h-1zM664 447h5v1h-5zM669 446h5v1h-5zM674 447h3v1h-3zM677 448h2v1h-2zM679 449h3v1h-3zM682 448h3v1h-3zM685 447h2v1h-2zM687 446h2v1h-2zM689 445h1v1h-1zM690 443h1v2h-1zM691 442h1v1h-1zM692 441h1v1h-1zM693 440h1v1h-1zM694 438h1v2h-1zM695 437h1v1h-1zM696 436h1v1h-1zM697 435h1v1h-1zM698 434h1v1h-1zM699 433h1v1h-1zM700 432h1v1h-1zM701 431h1v1h-1zM702 430h1v1h-1zM703 429h1v1h-1zM704 428h1v1h-1zM705 427h1v1h-1zM706 426h1v1h-1zM707 425h1v1h-1zM708 424h1v1h-1zM709 423h1v1h-1zM710 422h1v1h-1zM711 421h1v1h-1zM712 420h10v1h-10zM722 419h3v1h-3zM725 418h2v1h-2zM727 417h3v1h-3zM730 418h3v1h-3zM733 419h2v1h-2zM735 420h2v1h-2zM737 421h1v2h-1zM738 423h1v1h-1zM739 424h1v1h-1zM740 425h1v2h-1zM741 427h1v1h-1zM742 428h1v1h-1zM743 429h1v2h-1zM744 431h1v1h-1zM745 432h1v2h-1zM746 434h1v1h-1zM747 435h1v1h-1zM748 436h1v2h-1zM749 438h1v1h-1zM750 439h1v1h-1zM751 440h1v2h-1zM752 442h1v1h-1zM753 443h1v2h-1zM754 445h1v2h-1zM755 447h1v1h-1zM756 448h1v2h-1zM757 450h1v1h-1zM758 451h1v2h-1zM759 453h1v2h-1zM760 455h1v1h-1zM761 456h1v2h-1zM762 458h1v1h-1zM763 459h1v2h-1zM764 461h1v1h-1zM765 462h1v2h-1zM766 464h1v1h-1zM767 465h1v2h-1zM768 467h1v1h-1zM769 468h1v1h-1zM770 469h1v1h-1zM771 470h1v1h-1zM772 471h1v1h-1zM773 472h1v1h-1zM774 473h1v1h-1zM775 474h1v1h-1zM776 475h1v1h-1zM777 476h2v1h-2zM779 477h2v1h-2zM781 478h1v1h-1zM782 479h2v1h-2zM784 480h1v1h-1zM785 479h1v1h-1zM786 478h1v1h-1zM787 477h2v1h-2zM789 476h1v1h-1zM790 475h1v1h-1zM791 474h1v1h-1zM792 473h1v1h-1zM793 472h1v1h-1zM794 471h1v1h-1zM795 470h1v1h-1zM796 469h1v1h-1zM797 468h1v1h-1zM798 467h1v1h-1zM799 466h1v1h-1zM800 465h1v1h-1zM801 464h2v1h-2zM803 463h2v1h-2zM805 462h1v1h-1zM806 461h2v1h-2zM808 460h9v1h-9zM817 461h2v1h-2zM819 462h2v1h-2zM821 463h1v1h-1zM822 464h2v1h-2zM824 465h2v1h-2zM826 466h3v1h-3zM829 467h2v1h-2zM831 468h3v1h-3zM834 469h3v1h-3zM837 470h2v1h-2zM839 471h2v1h-2zM841 472h2v1h-2zM843 473h1v1h-1zM844 474h1v1h-1zM845 475h2v1h-2zM847 476h1v1h-1zM848 477h1v1h-1zM849 476h1v1h-1zM850 475h1v1h-1zM851 474h1v1h-1zM852 473h1v1h-1zM853 472h1v1h-1zM854 471h1v1h-1zM855 470h1v1h-1zM856 469h1v1h-1zM857 468h1v1h-1zM858 467h1v1h-1zM859 466h1v1h-1zM860 464h1v2h-1zM861 463h1v1h-1zM862 462h1v1h-1zM863 461h1v1h-1zM864 460h1v1h-1zM865 458h1v2h-1zM866 457h1v1h-1zM867 456h1v1h-1zM868 454h1v2h-1zM869 453h1v1h-1zM870 452h1v1h-1zM871 450h1v2h-1zM872 448h1v2h-1zM873 444h1v4h-1zM874 441h1v3h-1zM875 437h1v4h-1zM876 434h1v3h-1zM877 430h1v4h-1zM878 427h1v3h-1zM879 423h1v4h-1zM880 419h1v4h-1zM881 415h1v4h-1zM882 410h1v5h-1zM883 405h1v5h-1zM884 401h1v4h-1zM885 396h1v5h-1zM886 391h1v5h-1zM887 387h1v4h-1zM888 383h1v4h-1zM889 379h1v4h-1zM890 376h1v3h-1zM891 373h1v3h-1zM892 369h1v4h-1zM893 366h1v3h-1zM894 363h1v3h-1zM895 359h1v4h-1zM896 356h1v3h-1zM897 354h1v2h-1zM898 351h1v3h-1zM899 348h1v3h-1zM900 346h1v2h-1zM901 343h1v3h-1zM902 340h1v3h-1zM903 338h1v2h-1zM904 336h1v2h-1zM905 334h1v2h-1zM906 332h1v2h-1zM907 330h1v2h-1zM908 329h1v1h-1zM909 327h1v2h-1zM910 325h1v2h-1zM911 323h1v2h-1zM912 322h1v1h-1zM913 321h2v1h-2zM915 320h1v1h-1zM916 319h1v1h-1zM917 318h2v1h-2zM919 317h1v1h-1zM920 316h1v1h-1zM921 315h1v1h-1zM922 314h1v1h-1zM923 313h1v1h-1zM924 311h1v2h-1zM925 310h1v1h-1zM926 309h1v1h-1zM927 308h1v1h-1zM928 307h1v1h-1zM929 308h1v2h-1zM930 310h1v2h-1zM931 312h1v1h-1zM932 313h1v2h-1zM933 315h1v1h-1zM934 316h1v2h-1zM935 318h1v2h-1zM936 320h1v2h-1zM937 322h1v2h-1zM938 324h1v3h-1zM939 327h1v3h-1zM940 330h1v2h-1zM941 332h1v3h-1zM942 335h1v3h-1zM943 338h1v2h-1zM944 340h1v3h-1zM945 343h1v2h-1zM946 345h1v2h-1zM947 347h1v2h-1zM948 349h1v2h-1zM949 351h1v2h-1zM950 353h1v2h-1zM951 355h1v2h-1zM952 357h1v2h-1zM953 359h1v3h-1zM954 362h1v2h-1zM955 364h1v3h-1zM956 367h1v3h-1zM957 370h1v3h-1zM958 373h1v2h-1zM959 375h1v3h-1zM960 378h1v3h-1zM961 381h1v2h-1zM962 383h1v2h-1zM963 385h1v2h-1zM964 387h1v2h-1zM965 389h1v2h-1zM966 391h1v2h-1zM967 393h1v2h-1zM968 395h3v1h-3zM971 394h4v1h-4zM975 393h2v1h-2zM976 392h1v1h-1zM977 390h1v2h-1zM978 387h1v3h-1zM979 385h1v2h-1zM980 382h1v3h-1zM981 380h1v2h-1zM982 377h1v3h-1zM983 375h1v2h-1zM984 371h1v4h-1zM985 367h1v4h-1zM986 363h1v4h-1zM987 359h1v4h-1zM988 355h1v4h-1zM989 351h1v4h-1zM990 347h1v4h-1zM991 343h1v4h-1zM992 339h1v4h-1zM993 335h1v4h-1zM994 332h1v3h-1zM995 329h1v3h-1zM996 325h1v4h-1zM997 322h1v3h-1zM998 319h1v3h-1zM999 315h1v4h-1zM1000 312h1v3h-1zM1001 309h1v3h-1zM1002 305h1v4h-1zM1003 302h1v3h-1zM1004 299h1v3h-1zM1005 296h1v3h-1zM1006 292h1v4h-1zM1007 289h1v3h-1zM1008 286h1v3h-1zM1009 282h1v4h-1zM1010 278h1v4h-1zM1011 275h1v3h-1zM1012 271h1v4h-1zM1013 268h1v3h-1zM1014 264h1v4h-1zM1015 260h1v4h-1zM1016 257h1v3h-1zM1017 254h1v3h-1zM1018 251h1v3h-1zM1019 248h1v3h-1zM1020 245h1v3h-1zM1021 242h1v3h-1zM1022 239h1v3h-1zM1023 236h1v3h-1zM1024 234h1v2h-1zM1025 232h1v2h-1zM1026 230h1v2h-1zM1027 229h1v1h-1zM1028 227h1v2h-1zM1029 226h1v1h-1zM1030 224h1v2h-1zM1031 222h1v2h-1zM1032 221h5v1h-5zM1037 222h4v1h-4zM1040 223h1v1h-1zM1041 224h1v2h-1zM1042 226h1v2h-1zM1043 228h1v2h-1zM1044 230h1v2h-1zM1045 232h1v2h-1zM1046 234h1v2h-1zM1047 236h1v2h-1zM1048 238h1v3h-1zM1049 241h1v2h-1zM1050 243h1v2h-1zM1051 245h1v3h-1zM1052 248h1v2h-1zM1053 250h1v3h-1zM1054 253h1v2h-1zM1055 255h1v2h-1zM1056 257h1v2h-1zM1057 259h1v2h-1zM1058 261h1v2h-1zM1059 263h1v2h-1zM1060 265h1v2h-1zM1061 267h1v2h-1zM1062 269h1v2h-1zM1063 271h1v2h-1zM1064 273h1v1h-1zM1065 274h1v2h-1zM1066 276h1v2h-1zM1067 278h1v2h-1zM1068 280h1v2h-1zM1069 282h1v2h-1zM1070 284h1v2h-1zM1071 286h1v2h-1zM1072 288h1v2h-1zM1073 290h1v3h-1zM1074 293h1v3h-1zM1075 296h1v3h-1zM1076 299h1v4h-1zM1077 303h1v3h-1zM1078 306h1v3h-1zM1079 309h1v3h-1zM1080 312h1v3h-1zM1081 315h1v4h-1zM1082 319h1v3h-1zM1083 322h1v3h-1zM1084 325h1v4h-1zM1085 329h1v3h-1zM1086 332h1v3h-1zM1087 335h1v4h-1zM1088 339h1v3h-1zM1089 342h1v3h-1zM1090 345h1v4h-1zM1091 349h1v3h-1zM1092 352h1v3h-1zM1093 355h1v3h-1zM1094 358h1v4h-1zM1095 362h1v3h-1zM1096 365h1v3h-1zM1097 368h1v2h-1zM1098 370h1v2h-1zM1099 372h1v2h-1zM1100 374h1v2h-1zM1101 376h1v2h-1zM1102 378h1v2h-1zM1103 380h1v2h-1zM1104 382h1v1h-1zM1105 383h1v2h-1zM1106 385h1v2h-1zM1107 387h1v1h-1zM1108 388h1v2h-1zM1109 390h1v1h-1zM1110 391h1v2h-1zM1111 393h1v2h-1zM1112 395h1v1h-1z" fill="#0000cd"/>
<rect x="859" y="174" width="322" height="6" fill="#ff3232"/>
<rect x="858" y="338" width="330" height="6" fill="#99cc00"/>
<rect x="862" y="469" width="340" height="5" fill="#3891e0"/>
<g fill="#000">
<rect x="1416" y="34" width="2" height="1" fill="#000"/>
<rect x="1416" y="67" width="2" height="1" fill="#000"/>
<rect x="1416" y="100" width="2" height="1" fill="#000"/>
<rect x="1416" y="133" width="2" height="1" fill="#000"/>
<rect x="1416" y="166" width="2" height="1" fill="#000"/>
<rect x="1416" y="199" width="2" height="1" fill="#000"/>
<rect x="1416" y="232" width="2" height="1" fill="#000"/>
<rect x="1416" y="265" width="2" height="1" fill="#000"/>
<rect x="1416" y="298" width="2" height="1" fill="#000"/>
<rect x="1416" y="331" width="2" height="1" fill="#000"/>
<rect x="1416" y="364" width="2" height="1" fill="#000"/>
<rect x="1416" y="397" width="2" height="1" fill="#000"/>
<rect x="1416" y="430" width="2" height="1" fill="#000"/>
<rect x="1416" y="463" width="2" height="1" fill="#000"/>
<rect x="1416" y="496" width="2" height="1" fill="#000"/>
<rect x="1416" y="529" width="2" height="1" fill="#000"/>
<rect x="1416" y="562" width="2" height="1" fill="#000"/>
<rect x="1416" y="569" width="1" height="1" fill="#000"/>
<rect x="1416" y="624" width="1" height="1" fill="#000"/>
<rect x="1416" y="669" width="1" height="1" fill="#000"/>
<rect x="1416" y="674" width="1" height="1" fill="#000"/>
<rect x="1416" y="801" width="1" height="1" fill="#000"/>
<rect x="0" y="803" width="1" height="3" fill="#000"/>
<rect x="64" y="803" width="1" height="3" fill="#000"/>
<rect x="128" y="803" width="1" height="3" fill="#000"/>
<rect x="192" y="803" width="1" height="3" fill="#000"/>
<rect x="256" y="803" width="1" height="3" fill="#000"/>
<rect x="320" y="803" width="1" height="3" fill="#000"/>
<rect x="384" y="803" width="1" height="3" fill="#000"/>
<rect x="448" y="803" width="1" height="3" fill="#000"/>
<rect x="512" y="803" width="1" height="3" fill="#000"/>
<rect x="576" y="803" width="1" height="3" fill="#000"/>
<rect x="640" y="803" width="1" height="3" fill="#000"/>
<rect x="704" y="803" width="1" height="3" fill="#000"/>
<rect x="768" y="803" width="1" height="3" fill="#000"/>
<rect x="832" y="803" width="1" height="3" fill="#000"/>
<rect x="896" y="803" width="1" height="3" fill="#000"/>
<rect x="960" y="803" width="1" height="3" fill="#000"/>
<rect x="1024" y="803" width="1" height="3" fill="#000"/>
<rect x="1088" y="803" width="1" height="3" fill="#000"/>
</g>
</svg>
<svg width="1457" height="850" viewBox="0 0 1457 850" style="position:absolute;left:0;top:0" font-family="'Liberation Sans', Arial, sans-serif" font-size="10px" text-rendering="geometricPrecision" fill="#000" stroke="#000" stroke-width="0.1">
<text x="1420.91" y="38" textLength="33.49" lengthAdjust="spacingAndGlyphs">1.15285</text>
<text x="1420.91" y="71" textLength="33.49" lengthAdjust="spacingAndGlyphs">1.15015</text>
<text x="1420.91" y="104" textLength="33.46" lengthAdjust="spacingAndGlyphs">1.14750</text>
<text x="1420.91" y="137" textLength="33.46" lengthAdjust="spacingAndGlyphs">1.14480</text>
<text x="1420.91" y="170" textLength="33.46" lengthAdjust="spacingAndGlyphs">1.14210</text>
<text x="1420.91" y="203" textLength="33.49" lengthAdjust="spacingAndGlyphs">1.13945</text>
<text x="1420.91" y="236" textLength="33.49" lengthAdjust="spacingAndGlyphs">1.13675</text>
<text x="1420.91" y="269" textLength="33.49" lengthAdjust="spacingAndGlyphs">1.13405</text>
<text x="1420.91" y="302" textLength="33.49" lengthAdjust="spacingAndGlyphs">1.13135</text>
<text x="1420.91" y="335" textLength="33.46" lengthAdjust="spacingAndGlyphs">1.12870</text>
<text x="1420.91" y="368" textLength="33.46" lengthAdjust="spacingAndGlyphs">1.12600</text>
<text x="1420.91" y="401" textLength="33.46" lengthAdjust="spacingAndGlyphs">1.12330</text>
<text x="1420.91" y="434" textLength="33.46" lengthAdjust="spacingAndGlyphs">1.12060</text>
<text x="1420.89" y="467" textLength="33.49" lengthAdjust="spacingAndGlyphs">1.11795</text>
<text x="1420.89" y="500" textLength="33.49" lengthAdjust="spacingAndGlyphs">1.11525</text>
<text x="1420.89" y="533" textLength="33.49" lengthAdjust="spacingAndGlyphs">1.11255</text>
<text x="1420.91" y="566" textLength="33.46" lengthAdjust="spacingAndGlyphs">1.10990</text>
<rect x="1417" y="428" width="40" height="11" fill="#000" stroke="none" shape-rendering="crispEdges"/>
<text x="1420.90" y="437" textLength="33.54" lengthAdjust="spacingAndGlyphs" fill="#fff" stroke="#fff">1.12039</text>
<text x="1418.83" y="578" textLength="38.35" lengthAdjust="spacingAndGlyphs">0.004465</text>
<text x="1418.92" y="628" textLength="18.55" lengthAdjust="spacingAndGlyphs">0.00</text>
<text x="1418.88" y="667" textLength="41.80" lengthAdjust="spacingAndGlyphs">-0.003715</text>
<text x="1418.59" y="683" textLength="15.88" lengthAdjust="spacingAndGlyphs">100</text>
<text x="1417.80" y="716" textLength="10.58" lengthAdjust="spacingAndGlyphs">70</text>
<text x="1417.95" y="767" textLength="10.42" lengthAdjust="spacingAndGlyphs">30</text>
<text x="1418.58" y="799" textLength="5.82" lengthAdjust="spacingAndGlyphs">0</text>
<polygon points="2.6,37 10.4,37 6.5,32.6" fill="#000" stroke="none"/>
<text x="14.41" y="38" textLength="67.40" lengthAdjust="spacingAndGlyphs">EURUSD-,Daily</text>
<text x="87.91" y="38" textLength="141.52" lengthAdjust="spacingAndGlyphs">1.12036 1.12046 1.12010 1.12039</text>
<text x="3.73" y="580" textLength="151.53" lengthAdjust="spacingAndGlyphs">MACD(12,26,9) -0.001377 0.000904</text>
<text x="3.63" y="685" textLength="68.47" lengthAdjust="spacingAndGlyphs">RSI(14) 37.6186</text>
<text x="-1.46" y="815" textLength="50.88" lengthAdjust="spacingAndGlyphs">28 Jan 2019</text>
<text x="62.73" y="815" textLength="47.72" lengthAdjust="spacingAndGlyphs">6 Feb 2019</text>
<text x="126.70" y="815" textLength="52.63" lengthAdjust="spacingAndGlyphs">15 Feb 2019</text>
<text x="190.93" y="815" textLength="52.29" lengthAdjust="spacingAndGlyphs">25 Feb 2019</text>
<text x="254.32" y="815" textLength="48.42" lengthAdjust="spacingAndGlyphs">6 Mar 2019</text>
<text x="319.10" y="815" textLength="52.32" lengthAdjust="spacingAndGlyphs">15 Mar 2019</text>
<text x="382.22" y="815" textLength="53.40" lengthAdjust="spacingAndGlyphs">25 Mar 2019</text>
<text x="446.64" y="815" textLength="47.00" lengthAdjust="spacingAndGlyphs">3 Apr 2019</text>
<text x="510.68" y="815" textLength="51.66" lengthAdjust="spacingAndGlyphs">12 Apr 2019</text>
<text x="574.62" y="815" textLength="51.62" lengthAdjust="spacingAndGlyphs">23 Apr 2019</text>
<text x="638.82" y="815" textLength="50.42" lengthAdjust="spacingAndGlyphs">2 May 2019</text>
<text x="702.47" y="815" textLength="55.98" lengthAdjust="spacingAndGlyphs">12 May 2019</text>
<text x="766.72" y="815" textLength="55.94" lengthAdjust="spacingAndGlyphs">21 May 2019</text>
<text x="830.54" y="815" textLength="56.02" lengthAdjust="spacingAndGlyphs">30 May 2019</text>
<text x="894.96" y="815" textLength="45.77" lengthAdjust="spacingAndGlyphs">9 Jun 2019</text>
<text x="958.41" y="815" textLength="51.01" lengthAdjust="spacingAndGlyphs">18 Jun 2019</text>
<text x="1022.84" y="815" textLength="50.37" lengthAdjust="spacingAndGlyphs">27 Jun 2019</text>
<text x="1087.02" y="815" textLength="42.39" lengthAdjust="spacingAndGlyphs">7 Jul 2019</text>
</svg>
<div id="panel">
 <div class="pbox" style="left:0;border-top:none"></div>
 <div class="pbox" style="left:111px;width:108px;border-top:none"></div>
 <div style="position:absolute;left:52px;top:0;width:115px;height:24px;background:#fff"></div>
 <div class="pbtn" style="left:0">SELL</div>
 <div class="pbtn" style="left:167px;letter-spacing:0.6px;text-indent:-0.5px">BUY</div>
 <div id="spin"><i class="b" style="left:1px;border-right-width:1px"></i><i class="b" style="right:1px;border-left-width:1px"></i><span class="v">1.00</span>
  <svg width="111" height="22" style="position:absolute;left:-1px;top:-1px"><polygon points="8,9 14,9 11,12.5" fill="#4a60c0"/><polygon points="97,12.5 103,12.5 100,9" fill="#4a60c0"/></svg>
 </div>
 <div class="pbox" style="left:0;background:none;border-color:transparent"><b style="left:19px;top:18.5px;font-size:12.6px;letter-spacing:0.2px">1.12</b><span style="left:46px;top:-1px;font-size:34px;line-height:40px;letter-spacing:-1.6px">03</span><b style="left:86px;top:2.5px;font-size:12px">9</b></div>
 <div class="pbox" style="left:111px;background:none;border-color:transparent"><b style="left:18px;top:18.5px;font-size:12.6px;letter-spacing:0.2px">1.12</b><span style="left:46px;top:-1px;font-size:34px;line-height:40px;letter-spacing:-1.6px">05</span><b style="left:86px;top:2.5px;font-size:12px">6</b></div>
</div>
<div id="tabs"><div class="line0"></div><div class="line1"></div><div class="bot1"></div><div class="bot2"></div>
<div id="acttab"></div>
<span class="tab act" style="left:11.41px;letter-spacing:0.094px">EURUSD-,Daily</span>
<span class="tab" style="left:118.97px;letter-spacing:0.198px">AUDUSD-,Daily</span>
<span class="tab" style="left:228.07px;letter-spacing:0.080px">USDCHF-,Daily</span>
<span class="tab" style="left:335.07px;letter-spacing:0.189px">USDCAD-,Daily</span>
<span class="tab" style="left:444.07px;letter-spacing:0.301px">USDCNH-,Daily</span>
<span class="tab" style="left:555.51px;letter-spacing:0.082px">EURCHF-,Weekly</span>
<span class="tab" style="left:675.73px;letter-spacing:0.242px">XAUUSD-,H1</span>
<span class="tab" style="left:771.40px;letter-spacing:0.091px">GBPUSD-,H1</span>
<span class="tab" style="left:867.57px;letter-spacing:0.500px">UKOil-,H1</span>
<i class="sep" style="left:217px"></i>
<i class="sep" style="left:325px"></i>
<i class="sep" style="left:433px"></i>
<i class="sep" style="left:545px"></i>
<i class="sep" style="left:665px"></i>
<i class="sep" style="left:761px"></i>
<i class="sep" style="left:857px"></i>
<i class="sep" style="left:937px"></i>
<svg width="30" height="10" style="position:absolute;left:1427px;top:6px"><polygon points="3.8,5 7.2,1.8 7.2,8.2" fill="#8c8c8c"/><polygon points="23,1.6 23,8.4 26.5,5" fill="#8c8c8c"/></svg>
</div>
</body></html>
